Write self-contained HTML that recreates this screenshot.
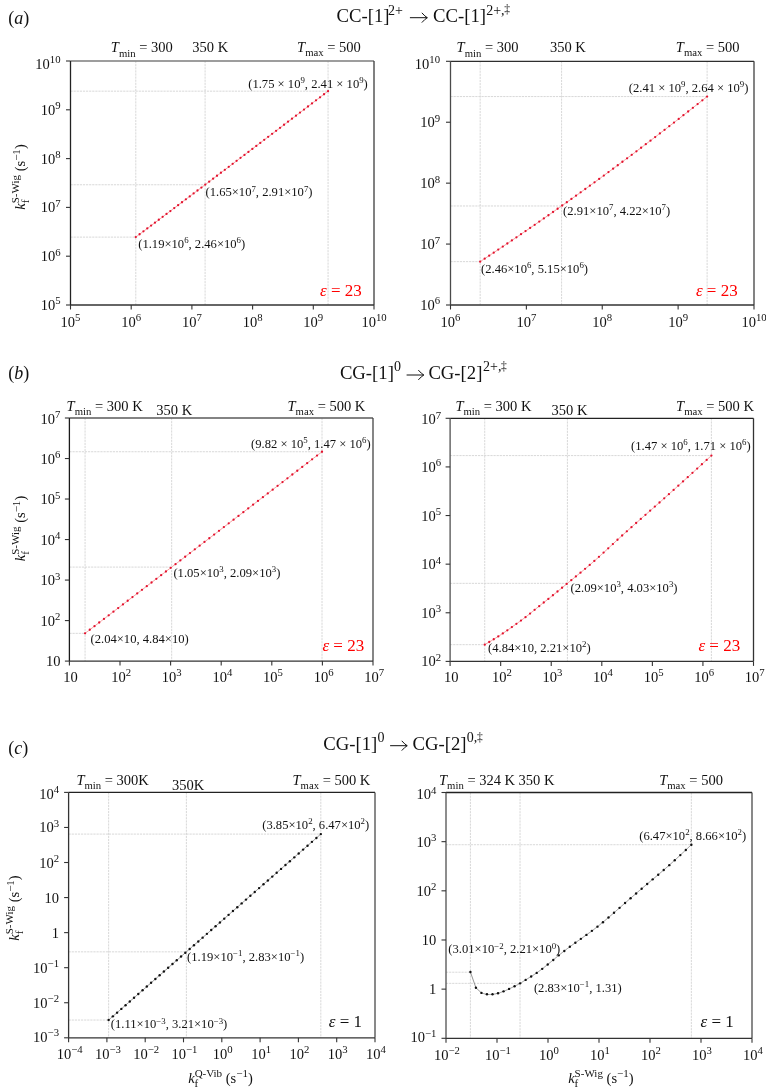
<!DOCTYPE html><html><head><meta charset="utf-8"><style>html,body{margin:0;padding:0;background:#fff;}svg{display:block;}text{font-family:"Liberation Serif",serif;}</style></head><body>
<svg style="will-change:transform" width="766" height="1091" viewBox="0 0 766 1091">
<rect width="766" height="1091" fill="#fff"/>
<text x="8.30" y="23.50" text-anchor="start" fill="#111"><tspan font-size="18.00">(</tspan><tspan font-size="18.00" font-style="italic">a</tspan><tspan font-size="18.00">)</tspan></text>
<text x="8.30" y="378.50" text-anchor="start" fill="#111"><tspan font-size="18.00">(</tspan><tspan font-size="18.00" font-style="italic">b</tspan><tspan font-size="18.00">)</tspan></text>
<text x="8.30" y="753.50" text-anchor="start" fill="#111"><tspan font-size="18.00">(</tspan><tspan font-size="18.00" font-style="italic">c</tspan><tspan font-size="18.00">)</tspan></text>
<text x="336.60" y="22.20" text-anchor="start" fill="#111"><tspan font-size="18.70">CC-[1]</tspan></text>
<text x="388.00" y="14.64" font-size="14.00" fill="#111">2+</text>
<path d="M410.30 17.70H426.90M422.10 13.10Q425.10 16.50 427.30 17.70Q425.10 18.90 422.10 22.30" fill="none" stroke="#111" stroke-width="1.0" stroke-linecap="round" stroke-linejoin="round"/>
<text x="433.00" y="22.20" text-anchor="start" fill="#111"><tspan font-size="18.70">CC-[1]</tspan></text>
<text x="486.20" y="14.64" font-size="14.00" fill="#111">2+,<tspan font-size="11.5" dx="-0.4" dy="-1.2">‡</tspan></text>
<text x="339.90" y="378.90" text-anchor="start" fill="#111"><tspan font-size="18.70">CG-[1]</tspan></text>
<text x="394.00" y="371.34" font-size="14.00" fill="#111">0</text>
<path d="M407.00 375.00H423.40M418.60 370.40Q421.60 373.80 423.80 375.00Q421.60 376.20 418.60 379.60" fill="none" stroke="#111" stroke-width="1.0" stroke-linecap="round" stroke-linejoin="round"/>
<text x="428.40" y="378.90" text-anchor="start" fill="#111"><tspan font-size="18.70">CG-[2]</tspan></text>
<text x="483.10" y="371.34" font-size="14.00" fill="#111">2+,<tspan font-size="11.5" dx="-0.4" dy="-1.2">‡</tspan></text>
<text x="323.30" y="750.00" text-anchor="start" fill="#111"><tspan font-size="18.70">CG-[1]</tspan></text>
<text x="377.40" y="742.44" font-size="14.00" fill="#111">0</text>
<path d="M390.50 745.70H406.80M402.00 741.10Q405.00 744.50 407.20 745.70Q405.00 746.90 402.00 750.30" fill="none" stroke="#111" stroke-width="1.0" stroke-linecap="round" stroke-linejoin="round"/>
<text x="412.60" y="750.00" text-anchor="start" fill="#111"><tspan font-size="18.70">CG-[2]</tspan></text>
<text x="466.80" y="742.44" font-size="14.00" fill="#111">0,<tspan font-size="11.5" dx="-0.4" dy="-1.2">‡</tspan></text>
<line x1="135.79" y1="61.00" x2="135.79" y2="305.00" stroke="#d4d4d4" stroke-width="0.9" stroke-dasharray="2.2 0.9"/>
<line x1="70.50" y1="237.12" x2="135.79" y2="237.12" stroke="#d4d4d4" stroke-width="0.9" stroke-dasharray="2.2 0.9"/>
<line x1="205.10" y1="61.00" x2="205.10" y2="305.00" stroke="#d4d4d4" stroke-width="0.9" stroke-dasharray="2.2 0.9"/>
<line x1="70.50" y1="184.76" x2="205.10" y2="184.76" stroke="#d4d4d4" stroke-width="0.9" stroke-dasharray="2.2 0.9"/>
<line x1="328.05" y1="61.00" x2="328.05" y2="305.00" stroke="#d4d4d4" stroke-width="0.9" stroke-dasharray="2.2 0.9"/>
<line x1="70.50" y1="91.16" x2="328.05" y2="91.16" stroke="#d4d4d4" stroke-width="0.9" stroke-dasharray="2.2 0.9"/>
<polyline points="135.79,237.12 136.75,236.40 137.71,235.67 138.67,234.95 139.63,234.23 140.59,233.50 141.55,232.78 142.52,232.05 143.48,231.33 144.44,230.60 145.40,229.88 146.36,229.15 147.32,228.43 148.28,227.70 149.24,226.98 150.21,226.25 151.17,225.53 152.13,224.80 153.09,224.08 154.05,223.35 155.01,222.63 155.97,221.90 156.94,221.18 157.90,220.45 158.86,219.73 159.82,219.00 160.78,218.28 161.74,217.55 162.70,216.82 163.66,216.10 164.63,215.37 165.59,214.65 166.55,213.92 167.51,213.20 168.47,212.47 169.43,211.74 170.39,211.02 171.36,210.29 172.32,209.56 173.28,208.84 174.24,208.11 175.20,207.39 176.16,206.66 177.12,205.93 178.08,205.21 179.05,204.48 180.01,203.75 180.97,203.03 181.93,202.30 182.89,201.57 183.85,200.84 184.81,200.12 185.78,199.39 186.74,198.66 187.70,197.94 188.66,197.21 189.62,196.48 190.58,195.75 191.54,195.03 192.50,194.30 193.47,193.57 194.43,192.84 195.39,192.12 196.35,191.39 197.31,190.66 198.27,189.93 199.23,189.21 200.20,188.48 201.16,187.75 202.12,187.02 203.08,186.29 204.04,185.57 205.00,184.84 205.96,184.11 206.92,183.38 207.89,182.65 208.85,181.92 209.81,181.20 210.77,180.47 211.73,179.74 212.69,179.01 213.65,178.28 214.62,177.55 215.58,176.82 216.54,176.09 217.50,175.37 218.46,174.64 219.42,173.91 220.38,173.18 221.34,172.45 222.31,171.72 223.27,170.99 224.23,170.26 225.19,169.53 226.15,168.80 227.11,168.07 228.07,167.34 229.04,166.61 230.00,165.88 230.96,165.15 231.92,164.42 232.88,163.69 233.84,162.96 234.80,162.23 235.76,161.50 236.73,160.77 237.69,160.04 238.65,159.31 239.61,158.58 240.57,157.85 241.53,157.12 242.49,156.39 243.46,155.66 244.42,154.93 245.38,154.20 246.34,153.47 247.30,152.74 248.26,152.01 249.22,151.28 250.18,150.55 251.15,149.82 252.11,149.09 253.07,148.35 254.03,147.62 254.99,146.89 255.95,146.16 256.91,145.43 257.88,144.70 258.84,143.97 259.80,143.24 260.76,142.50 261.72,141.77 262.68,141.04 263.64,140.31 264.60,139.58 265.57,138.85 266.53,138.11 267.49,137.38 268.45,136.65 269.41,135.92 270.37,135.19 271.33,134.45 272.30,133.72 273.26,132.99 274.22,132.26 275.18,131.52 276.14,130.79 277.10,130.06 278.06,129.33 279.02,128.59 279.99,127.86 280.95,127.13 281.91,126.40 282.87,125.66 283.83,124.93 284.79,124.20 285.75,123.47 286.72,122.73 287.68,122.00 288.64,121.27 289.60,120.53 290.56,119.80 291.52,119.07 292.48,118.33 293.44,117.60 294.41,116.87 295.37,116.13 296.33,115.40 297.29,114.67 298.25,113.93 299.21,113.20 300.17,112.46 301.14,111.73 302.10,111.00 303.06,110.26 304.02,109.53 304.98,108.79 305.94,108.06 306.90,107.33 307.86,106.59 308.83,105.86 309.79,105.12 310.75,104.39 311.71,103.65 312.67,102.92 313.63,102.18 314.59,101.45 315.56,100.71 316.52,99.98 317.48,99.24 318.44,98.51 319.40,97.77 320.36,97.04 321.32,96.30 322.28,95.57 323.25,94.83 324.21,94.10 325.17,93.36 326.13,92.63 327.09,91.89 328.05,91.16" fill="none" stroke="#f38484" stroke-width="0.8"/>
<circle cx="135.79" cy="237.12" r="1.15" fill="#e3122f"/>
<circle cx="139.61" cy="234.24" r="1.15" fill="#e3122f"/>
<circle cx="143.45" cy="231.35" r="1.15" fill="#e3122f"/>
<circle cx="147.28" cy="228.46" r="1.15" fill="#e3122f"/>
<circle cx="151.12" cy="225.56" r="1.15" fill="#e3122f"/>
<circle cx="154.97" cy="222.66" r="1.15" fill="#e3122f"/>
<circle cx="158.81" cy="219.76" r="1.15" fill="#e3122f"/>
<circle cx="162.67" cy="216.85" r="1.15" fill="#e3122f"/>
<circle cx="166.52" cy="213.94" r="1.15" fill="#e3122f"/>
<circle cx="170.38" cy="211.03" r="1.15" fill="#e3122f"/>
<circle cx="174.25" cy="208.11" r="1.15" fill="#e3122f"/>
<circle cx="178.11" cy="205.18" r="1.15" fill="#e3122f"/>
<circle cx="181.99" cy="202.26" r="1.15" fill="#e3122f"/>
<circle cx="185.86" cy="199.32" r="1.15" fill="#e3122f"/>
<circle cx="189.74" cy="196.39" r="1.15" fill="#e3122f"/>
<circle cx="193.63" cy="193.45" r="1.15" fill="#e3122f"/>
<circle cx="197.51" cy="190.51" r="1.15" fill="#e3122f"/>
<circle cx="201.41" cy="187.56" r="1.15" fill="#e3122f"/>
<circle cx="205.30" cy="184.61" r="1.15" fill="#e3122f"/>
<circle cx="209.20" cy="181.66" r="1.15" fill="#e3122f"/>
<circle cx="213.11" cy="178.70" r="1.15" fill="#e3122f"/>
<circle cx="217.01" cy="175.73" r="1.15" fill="#e3122f"/>
<circle cx="220.93" cy="172.77" r="1.15" fill="#e3122f"/>
<circle cx="224.84" cy="169.80" r="1.15" fill="#e3122f"/>
<circle cx="228.76" cy="166.82" r="1.15" fill="#e3122f"/>
<circle cx="232.68" cy="163.84" r="1.15" fill="#e3122f"/>
<circle cx="236.61" cy="160.86" r="1.15" fill="#e3122f"/>
<circle cx="240.54" cy="157.87" r="1.15" fill="#e3122f"/>
<circle cx="244.48" cy="154.88" r="1.15" fill="#e3122f"/>
<circle cx="248.42" cy="151.89" r="1.15" fill="#e3122f"/>
<circle cx="252.36" cy="148.89" r="1.15" fill="#e3122f"/>
<circle cx="256.31" cy="145.89" r="1.15" fill="#e3122f"/>
<circle cx="260.26" cy="142.88" r="1.15" fill="#e3122f"/>
<circle cx="264.22" cy="139.87" r="1.15" fill="#e3122f"/>
<circle cx="268.18" cy="136.86" r="1.15" fill="#e3122f"/>
<circle cx="272.14" cy="133.84" r="1.15" fill="#e3122f"/>
<circle cx="276.11" cy="130.82" r="1.15" fill="#e3122f"/>
<circle cx="280.08" cy="127.79" r="1.15" fill="#e3122f"/>
<circle cx="284.06" cy="124.76" r="1.15" fill="#e3122f"/>
<circle cx="288.04" cy="121.72" r="1.15" fill="#e3122f"/>
<circle cx="292.02" cy="118.69" r="1.15" fill="#e3122f"/>
<circle cx="296.01" cy="115.64" r="1.15" fill="#e3122f"/>
<circle cx="300.00" cy="112.60" r="1.15" fill="#e3122f"/>
<circle cx="304.00" cy="109.55" r="1.15" fill="#e3122f"/>
<circle cx="307.99" cy="106.49" r="1.15" fill="#e3122f"/>
<circle cx="312.00" cy="103.43" r="1.15" fill="#e3122f"/>
<circle cx="316.01" cy="100.37" r="1.15" fill="#e3122f"/>
<circle cx="320.02" cy="97.30" r="1.15" fill="#e3122f"/>
<circle cx="324.03" cy="94.23" r="1.15" fill="#e3122f"/>
<circle cx="328.05" cy="91.16" r="1.15" fill="#e3122f"/>
<line x1="70.5" y1="61" x2="374" y2="61" stroke="#7c7c7c" stroke-width="1.3"/>
<line x1="374" y1="61" x2="374" y2="305" stroke="#3c3c3c" stroke-width="1.3"/>
<line x1="70.5" y1="305" x2="374" y2="305" stroke="#333" stroke-width="1.3"/>
<line x1="70.5" y1="61" x2="70.5" y2="305" stroke="#222" stroke-width="1.3"/>
<line x1="70.50" y1="305" x2="70.50" y2="309.5" stroke="#333" stroke-width="1.1"/>
<text x="70.50" y="326.50" text-anchor="middle" fill="#111"><tspan font-size="14.50">10</tspan><tspan dy="-5.51" font-size="10.73">5</tspan></text>
<line x1="131.20" y1="305" x2="131.20" y2="309.5" stroke="#333" stroke-width="1.1"/>
<text x="131.20" y="326.50" text-anchor="middle" fill="#111"><tspan font-size="14.50">10</tspan><tspan dy="-5.51" font-size="10.73">6</tspan></text>
<line x1="191.90" y1="305" x2="191.90" y2="309.5" stroke="#333" stroke-width="1.1"/>
<text x="191.90" y="326.50" text-anchor="middle" fill="#111"><tspan font-size="14.50">10</tspan><tspan dy="-5.51" font-size="10.73">7</tspan></text>
<line x1="252.60" y1="305" x2="252.60" y2="309.5" stroke="#333" stroke-width="1.1"/>
<text x="252.60" y="326.50" text-anchor="middle" fill="#111"><tspan font-size="14.50">10</tspan><tspan dy="-5.51" font-size="10.73">8</tspan></text>
<line x1="313.30" y1="305" x2="313.30" y2="309.5" stroke="#333" stroke-width="1.1"/>
<text x="313.30" y="326.50" text-anchor="middle" fill="#111"><tspan font-size="14.50">10</tspan><tspan dy="-5.51" font-size="10.73">9</tspan></text>
<line x1="374.00" y1="305" x2="374.00" y2="309.5" stroke="#333" stroke-width="1.1"/>
<text x="374.00" y="326.50" text-anchor="middle" fill="#111"><tspan font-size="14.50">10</tspan><tspan dy="-5.51" font-size="10.73">10</tspan></text>
<line x1="66.0" y1="305.00" x2="70.5" y2="305.00" stroke="#333" stroke-width="1.1"/>
<text x="60.50" y="310.00" text-anchor="end" fill="#111"><tspan font-size="14.50">10</tspan><tspan dy="-5.51" font-size="10.73">5</tspan></text>
<line x1="66.0" y1="256.20" x2="70.5" y2="256.20" stroke="#333" stroke-width="1.1"/>
<text x="60.50" y="261.20" text-anchor="end" fill="#111"><tspan font-size="14.50">10</tspan><tspan dy="-5.51" font-size="10.73">6</tspan></text>
<line x1="66.0" y1="207.40" x2="70.5" y2="207.40" stroke="#333" stroke-width="1.1"/>
<text x="60.50" y="212.40" text-anchor="end" fill="#111"><tspan font-size="14.50">10</tspan><tspan dy="-5.51" font-size="10.73">7</tspan></text>
<line x1="66.0" y1="158.60" x2="70.5" y2="158.60" stroke="#333" stroke-width="1.1"/>
<text x="60.50" y="163.60" text-anchor="end" fill="#111"><tspan font-size="14.50">10</tspan><tspan dy="-5.51" font-size="10.73">8</tspan></text>
<line x1="66.0" y1="109.80" x2="70.5" y2="109.80" stroke="#333" stroke-width="1.1"/>
<text x="60.50" y="114.80" text-anchor="end" fill="#111"><tspan font-size="14.50">10</tspan><tspan dy="-5.51" font-size="10.73">9</tspan></text>
<line x1="66.0" y1="61.00" x2="70.5" y2="61.00" stroke="#333" stroke-width="1.1"/>
<text x="60.50" y="68.60" text-anchor="end" fill="#111"><tspan font-size="14.50">10</tspan><tspan dy="-5.51" font-size="10.73">10</tspan></text>
<text x="110.80" y="52.40" fill="#111"><tspan font-style="italic" font-size="14.5">T</tspan><tspan dy="4.35" font-size="10.73">min</tspan><tspan dy="-4.35" font-size="14.5"> = 300</tspan></text>
<text x="192.30" y="52.40" text-anchor="start" fill="#111"><tspan font-size="14.50">350 K</tspan></text>
<text x="297.10" y="52.00" fill="#111"><tspan font-style="italic" font-size="14.5">T</tspan><tspan dy="4.35" font-size="10.73">max</tspan><tspan dy="-4.35" font-size="14.5"> = 500</tspan></text>
<text x="138.20" y="248.00" text-anchor="start" fill="#111"><tspan font-size="12.60">(</tspan><tspan font-size="12.60">1.19×10</tspan><tspan dy="-4.79" font-size="8.82">6</tspan><tspan dy="4.79" font-size="12.60">, </tspan><tspan font-size="12.60">2.46×10</tspan><tspan dy="-4.79" font-size="8.82">6</tspan><tspan dy="4.79" font-size="12.60">)</tspan></text>
<text x="205.50" y="196.40" text-anchor="start" fill="#111"><tspan font-size="12.60">(</tspan><tspan font-size="12.60">1.65×10</tspan><tspan dy="-4.79" font-size="8.82">7</tspan><tspan dy="4.79" font-size="12.60">, </tspan><tspan font-size="12.60">2.91×10</tspan><tspan dy="-4.79" font-size="8.82">7</tspan><tspan dy="4.79" font-size="12.60">)</tspan></text>
<text x="248.20" y="87.80" text-anchor="start" fill="#111"><tspan font-size="12.60">(</tspan><tspan font-size="12.60">1.75 × 10</tspan><tspan dy="-4.79" font-size="8.82">9</tspan><tspan dy="4.79" font-size="12.60">, </tspan><tspan font-size="12.60">2.41 × 10</tspan><tspan dy="-4.79" font-size="8.82">9</tspan><tspan dy="4.79" font-size="12.60">)</tspan></text>
<text x="320.00" y="295.50" text-anchor="start" fill="#ff0000"><tspan font-size="17.00" font-style="italic">ε</tspan><tspan font-size="17.00"> = 23</tspan></text>
<text x="25.40" y="177.00" text-anchor="middle" fill="#111" transform="rotate(-90 25.4 177)"><tspan font-style="italic" font-size="14.5">k</tspan><tspan dy="4.06" font-size="11.02">f</tspan><tspan dx="-3.67" dy="-10.15" font-size="11.02">S-Wig</tspan><tspan dy="6.09" font-size="14.5"> (s</tspan><tspan dy="-5.51" font-size="11.02">−1</tspan><tspan dy="5.51" font-size="14.5">)</tspan></text>
<line x1="480.16" y1="61.30" x2="480.16" y2="305.00" stroke="#d4d4d4" stroke-width="0.9" stroke-dasharray="2.2 0.9"/>
<line x1="450.50" y1="261.63" x2="480.16" y2="261.63" stroke="#d4d4d4" stroke-width="0.9" stroke-dasharray="2.2 0.9"/>
<line x1="561.57" y1="61.30" x2="561.57" y2="305.00" stroke="#d4d4d4" stroke-width="0.9" stroke-dasharray="2.2 0.9"/>
<line x1="450.50" y1="205.98" x2="561.57" y2="205.98" stroke="#d4d4d4" stroke-width="0.9" stroke-dasharray="2.2 0.9"/>
<line x1="707.11" y1="61.30" x2="707.11" y2="305.00" stroke="#d4d4d4" stroke-width="0.9" stroke-dasharray="2.2 0.9"/>
<line x1="450.50" y1="96.54" x2="707.11" y2="96.54" stroke="#d4d4d4" stroke-width="0.9" stroke-dasharray="2.2 0.9"/>
<polyline points="480.16,261.63 481.30,260.88 482.43,260.14 483.57,259.39 484.70,258.64 485.84,257.88 486.97,257.13 488.11,256.38 489.24,255.62 490.37,254.87 491.51,254.11 492.64,253.36 493.78,252.60 494.91,251.84 496.05,251.09 497.18,250.33 498.32,249.57 499.45,248.81 500.59,248.04 501.72,247.28 502.86,246.52 503.99,245.76 505.13,244.99 506.26,244.23 507.40,243.46 508.53,242.69 509.67,241.92 510.80,241.16 511.93,240.39 513.07,239.62 514.20,238.85 515.34,238.07 516.47,237.30 517.61,236.53 518.74,235.76 519.88,234.98 521.01,234.20 522.15,233.43 523.28,232.65 524.42,231.87 525.55,231.10 526.69,230.32 527.82,229.54 528.96,228.76 530.09,227.97 531.23,227.19 532.36,226.41 533.50,225.62 534.63,224.84 535.76,224.05 536.90,223.27 538.03,222.48 539.17,221.69 540.30,220.90 541.44,220.11 542.57,219.32 543.71,218.53 544.84,217.74 545.98,216.95 547.11,216.16 548.25,215.36 549.38,214.57 550.52,213.77 551.65,212.97 552.79,212.18 553.92,211.38 555.06,210.58 556.19,209.78 557.32,208.98 558.46,208.18 559.59,207.38 560.73,206.58 561.86,205.77 563.00,204.97 564.13,204.16 565.27,203.36 566.40,202.55 567.54,201.74 568.67,200.94 569.81,200.13 570.94,199.32 572.08,198.51 573.21,197.70 574.35,196.88 575.48,196.07 576.62,195.26 577.75,194.44 578.88,193.63 580.02,192.81 581.15,192.00 582.29,191.18 583.42,190.36 584.56,189.54 585.69,188.72 586.83,187.90 587.96,187.08 589.10,186.26 590.23,185.44 591.37,184.61 592.50,183.79 593.64,182.96 594.77,182.14 595.91,181.31 597.04,180.48 598.18,179.65 599.31,178.83 600.44,178.00 601.58,177.17 602.71,176.33 603.85,175.50 604.98,174.67 606.12,173.84 607.25,173.00 608.39,172.17 609.52,171.33 610.66,170.49 611.79,169.66 612.93,168.82 614.06,167.98 615.20,167.14 616.33,166.30 617.47,165.46 618.60,164.61 619.74,163.77 620.87,162.93 622.00,162.08 623.14,161.24 624.27,160.39 625.41,159.55 626.54,158.70 627.68,157.85 628.81,157.00 629.95,156.15 631.08,155.30 632.22,154.45 633.35,153.60 634.49,152.74 635.62,151.89 636.76,151.03 637.89,150.18 639.03,149.32 640.16,148.47 641.30,147.61 642.43,146.75 643.57,145.89 644.70,145.03 645.83,144.17 646.97,143.31 648.10,142.45 649.24,141.58 650.37,140.72 651.51,139.86 652.64,138.99 653.78,138.12 654.91,137.26 656.05,136.39 657.18,135.52 658.32,134.65 659.45,133.78 660.59,132.91 661.72,132.04 662.86,131.17 663.99,130.29 665.13,129.42 666.26,128.54 667.39,127.67 668.53,126.79 669.66,125.92 670.80,125.04 671.93,124.16 673.07,123.28 674.20,122.40 675.34,121.52 676.47,120.64 677.61,119.75 678.74,118.87 679.88,117.99 681.01,117.10 682.15,116.22 683.28,115.33 684.42,114.44 685.55,113.56 686.69,112.67 687.82,111.78 688.95,110.89 690.09,110.00 691.22,109.10 692.36,108.21 693.49,107.32 694.63,106.42 695.76,105.53 696.90,104.63 698.03,103.74 699.17,102.84 700.30,101.94 701.44,101.04 702.57,100.14 703.71,99.24 704.84,98.34 705.98,97.44 707.11,96.54" fill="none" stroke="#f38484" stroke-width="0.8"/>
<circle cx="480.16" cy="261.63" r="1.15" fill="#e3122f"/>
<circle cx="484.68" cy="258.65" r="1.15" fill="#e3122f"/>
<circle cx="489.20" cy="255.65" r="1.15" fill="#e3122f"/>
<circle cx="493.73" cy="252.63" r="1.15" fill="#e3122f"/>
<circle cx="498.26" cy="249.60" r="1.15" fill="#e3122f"/>
<circle cx="502.80" cy="246.56" r="1.15" fill="#e3122f"/>
<circle cx="507.34" cy="243.49" r="1.15" fill="#e3122f"/>
<circle cx="511.89" cy="240.42" r="1.15" fill="#e3122f"/>
<circle cx="516.44" cy="237.32" r="1.15" fill="#e3122f"/>
<circle cx="521.00" cy="234.21" r="1.15" fill="#e3122f"/>
<circle cx="525.56" cy="231.09" r="1.15" fill="#e3122f"/>
<circle cx="530.13" cy="227.95" r="1.15" fill="#e3122f"/>
<circle cx="534.70" cy="224.79" r="1.15" fill="#e3122f"/>
<circle cx="539.27" cy="221.62" r="1.15" fill="#e3122f"/>
<circle cx="543.85" cy="218.43" r="1.15" fill="#e3122f"/>
<circle cx="548.44" cy="215.23" r="1.15" fill="#e3122f"/>
<circle cx="553.03" cy="212.01" r="1.15" fill="#e3122f"/>
<circle cx="557.62" cy="208.77" r="1.15" fill="#e3122f"/>
<circle cx="562.22" cy="205.52" r="1.15" fill="#e3122f"/>
<circle cx="566.82" cy="202.25" r="1.15" fill="#e3122f"/>
<circle cx="571.43" cy="198.97" r="1.15" fill="#e3122f"/>
<circle cx="576.04" cy="195.67" r="1.15" fill="#e3122f"/>
<circle cx="580.66" cy="192.35" r="1.15" fill="#e3122f"/>
<circle cx="585.28" cy="189.02" r="1.15" fill="#e3122f"/>
<circle cx="589.91" cy="185.67" r="1.15" fill="#e3122f"/>
<circle cx="594.54" cy="182.30" r="1.15" fill="#e3122f"/>
<circle cx="599.18" cy="178.92" r="1.15" fill="#e3122f"/>
<circle cx="603.82" cy="175.53" r="1.15" fill="#e3122f"/>
<circle cx="608.46" cy="172.11" r="1.15" fill="#e3122f"/>
<circle cx="613.11" cy="168.68" r="1.15" fill="#e3122f"/>
<circle cx="617.77" cy="165.23" r="1.15" fill="#e3122f"/>
<circle cx="622.43" cy="161.77" r="1.15" fill="#e3122f"/>
<circle cx="627.09" cy="158.29" r="1.15" fill="#e3122f"/>
<circle cx="631.76" cy="154.79" r="1.15" fill="#e3122f"/>
<circle cx="636.44" cy="151.28" r="1.15" fill="#e3122f"/>
<circle cx="641.11" cy="147.75" r="1.15" fill="#e3122f"/>
<circle cx="645.80" cy="144.20" r="1.15" fill="#e3122f"/>
<circle cx="650.49" cy="140.63" r="1.15" fill="#e3122f"/>
<circle cx="655.18" cy="137.05" r="1.15" fill="#e3122f"/>
<circle cx="659.88" cy="133.45" r="1.15" fill="#e3122f"/>
<circle cx="664.58" cy="129.84" r="1.15" fill="#e3122f"/>
<circle cx="669.29" cy="126.21" r="1.15" fill="#e3122f"/>
<circle cx="674.00" cy="122.56" r="1.15" fill="#e3122f"/>
<circle cx="678.71" cy="118.89" r="1.15" fill="#e3122f"/>
<circle cx="683.43" cy="115.21" r="1.15" fill="#e3122f"/>
<circle cx="688.16" cy="111.51" r="1.15" fill="#e3122f"/>
<circle cx="692.89" cy="107.79" r="1.15" fill="#e3122f"/>
<circle cx="697.63" cy="104.06" r="1.15" fill="#e3122f"/>
<circle cx="702.37" cy="100.31" r="1.15" fill="#e3122f"/>
<circle cx="707.11" cy="96.54" r="1.15" fill="#e3122f"/>
<line x1="450.5" y1="61.3" x2="754" y2="61.3" stroke="#2e2e2e" stroke-width="1.3"/>
<line x1="754" y1="61.3" x2="754" y2="305" stroke="#404040" stroke-width="1.3"/>
<line x1="450.5" y1="305" x2="754" y2="305" stroke="#333" stroke-width="1.3"/>
<line x1="450.5" y1="61.3" x2="450.5" y2="305" stroke="#4a4a4a" stroke-width="1.3"/>
<line x1="450.50" y1="305" x2="450.50" y2="309.5" stroke="#333" stroke-width="1.1"/>
<text x="450.50" y="326.50" text-anchor="middle" fill="#111"><tspan font-size="14.50">10</tspan><tspan dy="-5.51" font-size="10.73">6</tspan></text>
<line x1="526.38" y1="305" x2="526.38" y2="309.5" stroke="#333" stroke-width="1.1"/>
<text x="526.38" y="326.50" text-anchor="middle" fill="#111"><tspan font-size="14.50">10</tspan><tspan dy="-5.51" font-size="10.73">7</tspan></text>
<line x1="602.25" y1="305" x2="602.25" y2="309.5" stroke="#333" stroke-width="1.1"/>
<text x="602.25" y="326.50" text-anchor="middle" fill="#111"><tspan font-size="14.50">10</tspan><tspan dy="-5.51" font-size="10.73">8</tspan></text>
<line x1="678.12" y1="305" x2="678.12" y2="309.5" stroke="#333" stroke-width="1.1"/>
<text x="678.12" y="326.50" text-anchor="middle" fill="#111"><tspan font-size="14.50">10</tspan><tspan dy="-5.51" font-size="10.73">9</tspan></text>
<line x1="754.00" y1="305" x2="754.00" y2="309.5" stroke="#333" stroke-width="1.1"/>
<text x="754.00" y="326.50" text-anchor="middle" fill="#111"><tspan font-size="14.50">10</tspan><tspan dy="-5.51" font-size="10.73">10</tspan></text>
<line x1="446.0" y1="305.00" x2="450.5" y2="305.00" stroke="#333" stroke-width="1.1"/>
<text x="440.00" y="310.00" text-anchor="end" fill="#111"><tspan font-size="14.50">10</tspan><tspan dy="-5.51" font-size="10.73">6</tspan></text>
<line x1="446.0" y1="244.07" x2="450.5" y2="244.07" stroke="#333" stroke-width="1.1"/>
<text x="440.00" y="249.07" text-anchor="end" fill="#111"><tspan font-size="14.50">10</tspan><tspan dy="-5.51" font-size="10.73">7</tspan></text>
<line x1="446.0" y1="183.15" x2="450.5" y2="183.15" stroke="#333" stroke-width="1.1"/>
<text x="440.00" y="188.15" text-anchor="end" fill="#111"><tspan font-size="14.50">10</tspan><tspan dy="-5.51" font-size="10.73">8</tspan></text>
<line x1="446.0" y1="122.23" x2="450.5" y2="122.23" stroke="#333" stroke-width="1.1"/>
<text x="440.00" y="127.23" text-anchor="end" fill="#111"><tspan font-size="14.50">10</tspan><tspan dy="-5.51" font-size="10.73">9</tspan></text>
<line x1="446.0" y1="61.30" x2="450.5" y2="61.30" stroke="#333" stroke-width="1.1"/>
<text x="440.00" y="68.80" text-anchor="end" fill="#111"><tspan font-size="14.50">10</tspan><tspan dy="-5.51" font-size="10.73">10</tspan></text>
<text x="456.60" y="52.20" fill="#111"><tspan font-style="italic" font-size="14.5">T</tspan><tspan dy="4.35" font-size="10.73">min</tspan><tspan dy="-4.35" font-size="14.5"> = 300</tspan></text>
<text x="549.90" y="52.20" text-anchor="start" fill="#111"><tspan font-size="14.50">350 K</tspan></text>
<text x="675.80" y="52.00" fill="#111"><tspan font-style="italic" font-size="14.5">T</tspan><tspan dy="4.35" font-size="10.73">max</tspan><tspan dy="-4.35" font-size="14.5"> = 500</tspan></text>
<text x="481.00" y="272.80" text-anchor="start" fill="#111"><tspan font-size="12.60">(</tspan><tspan font-size="12.60">2.46×10</tspan><tspan dy="-4.79" font-size="8.82">6</tspan><tspan dy="4.79" font-size="12.60">, </tspan><tspan font-size="12.60">5.15×10</tspan><tspan dy="-4.79" font-size="8.82">6</tspan><tspan dy="4.79" font-size="12.60">)</tspan></text>
<text x="563.10" y="215.00" text-anchor="start" fill="#111"><tspan font-size="12.60">(</tspan><tspan font-size="12.60">2.91×10</tspan><tspan dy="-4.79" font-size="8.82">7</tspan><tspan dy="4.79" font-size="12.60">, </tspan><tspan font-size="12.60">4.22×10</tspan><tspan dy="-4.79" font-size="8.82">7</tspan><tspan dy="4.79" font-size="12.60">)</tspan></text>
<text x="628.80" y="92.00" text-anchor="start" fill="#111"><tspan font-size="12.60">(</tspan><tspan font-size="12.60">2.41 × 10</tspan><tspan dy="-4.79" font-size="8.82">9</tspan><tspan dy="4.79" font-size="12.60">, </tspan><tspan font-size="12.60">2.64 × 10</tspan><tspan dy="-4.79" font-size="8.82">9</tspan><tspan dy="4.79" font-size="12.60">)</tspan></text>
<text x="695.90" y="295.50" text-anchor="start" fill="#ff0000"><tspan font-size="17.00" font-style="italic">ε</tspan><tspan font-size="17.00"> = 23</tspan></text>
<line x1="85.07" y1="418.00" x2="85.07" y2="661.10" stroke="#d4d4d4" stroke-width="0.9" stroke-dasharray="2.2 0.9"/>
<line x1="69.40" y1="633.35" x2="85.07" y2="633.35" stroke="#d4d4d4" stroke-width="0.9" stroke-dasharray="2.2 0.9"/>
<line x1="171.67" y1="418.00" x2="171.67" y2="661.10" stroke="#d4d4d4" stroke-width="0.9" stroke-dasharray="2.2 0.9"/>
<line x1="69.40" y1="567.10" x2="171.67" y2="567.10" stroke="#d4d4d4" stroke-width="0.9" stroke-dasharray="2.2 0.9"/>
<line x1="322.00" y1="418.00" x2="322.00" y2="661.10" stroke="#d4d4d4" stroke-width="0.9" stroke-dasharray="2.2 0.9"/>
<line x1="69.40" y1="451.74" x2="322.00" y2="451.74" stroke="#d4d4d4" stroke-width="0.9" stroke-dasharray="2.2 0.9"/>
<polyline points="85.07,633.35 86.25,632.45 87.44,631.54 88.62,630.64 89.81,629.73 90.99,628.83 92.18,627.92 93.36,627.01 94.54,626.11 95.73,625.20 96.91,624.30 98.10,623.39 99.28,622.49 100.47,621.58 101.65,620.68 102.84,619.77 104.02,618.86 105.21,617.96 106.39,617.05 107.58,616.15 108.76,615.24 109.95,614.33 111.13,613.43 112.31,612.52 113.50,611.62 114.68,610.71 115.87,609.80 117.05,608.90 118.24,607.99 119.42,607.09 120.61,606.18 121.79,605.27 122.98,604.37 124.16,603.46 125.35,602.56 126.53,601.65 127.72,600.74 128.90,599.84 130.08,598.93 131.27,598.02 132.45,597.12 133.64,596.21 134.82,595.30 136.01,594.40 137.19,593.49 138.38,592.58 139.56,591.68 140.75,590.77 141.93,589.87 143.12,588.96 144.30,588.05 145.49,587.15 146.67,586.24 147.85,585.33 149.04,584.42 150.22,583.52 151.41,582.61 152.59,581.70 153.78,580.80 154.96,579.89 156.15,578.98 157.33,578.08 158.52,577.17 159.70,576.26 160.89,575.36 162.07,574.45 163.26,573.54 164.44,572.63 165.62,571.73 166.81,570.82 167.99,569.91 169.18,569.01 170.36,568.10 171.55,567.19 172.73,566.28 173.92,565.38 175.10,564.47 176.29,563.56 177.47,562.65 178.66,561.75 179.84,560.84 181.03,559.93 182.21,559.02 183.39,558.12 184.58,557.21 185.76,556.30 186.95,555.39 188.13,554.49 189.32,553.58 190.50,552.67 191.69,551.76 192.87,550.85 194.06,549.95 195.24,549.04 196.43,548.13 197.61,547.22 198.80,546.31 199.98,545.41 201.16,544.50 202.35,543.59 203.53,542.68 204.72,541.77 205.90,540.87 207.09,539.96 208.27,539.05 209.46,538.14 210.64,537.23 211.83,536.33 213.01,535.42 214.20,534.51 215.38,533.60 216.57,532.69 217.75,531.78 218.93,530.88 220.12,529.97 221.30,529.06 222.49,528.15 223.67,527.24 224.86,526.33 226.04,525.42 227.23,524.52 228.41,523.61 229.60,522.70 230.78,521.79 231.97,520.88 233.15,519.97 234.34,519.06 235.52,518.15 236.70,517.25 237.89,516.34 239.07,515.43 240.26,514.52 241.44,513.61 242.63,512.70 243.81,511.79 245.00,510.88 246.18,509.97 247.37,509.06 248.55,508.16 249.74,507.25 250.92,506.34 252.11,505.43 253.29,504.52 254.47,503.61 255.66,502.70 256.84,501.79 258.03,500.88 259.21,499.97 260.40,499.06 261.58,498.15 262.77,497.24 263.95,496.33 265.14,495.43 266.32,494.52 267.51,493.61 268.69,492.70 269.88,491.79 271.06,490.88 272.24,489.97 273.43,489.06 274.61,488.15 275.80,487.24 276.98,486.33 278.17,485.42 279.35,484.51 280.54,483.60 281.72,482.69 282.91,481.78 284.09,480.87 285.28,479.96 286.46,479.05 287.65,478.14 288.83,477.23 290.01,476.32 291.20,475.41 292.38,474.50 293.57,473.59 294.75,472.68 295.94,471.77 297.12,470.86 298.31,469.95 299.49,469.04 300.68,468.13 301.86,467.22 303.05,466.31 304.23,465.40 305.42,464.49 306.60,463.58 307.78,462.67 308.97,461.75 310.15,460.84 311.34,459.93 312.52,459.02 313.71,458.11 314.89,457.20 316.08,456.29 317.26,455.38 318.45,454.47 319.63,453.56 320.82,452.65 322.00,451.74" fill="none" stroke="#f38484" stroke-width="0.8"/>
<circle cx="85.07" cy="633.35" r="1.15" fill="#e3122f"/>
<circle cx="89.78" cy="629.75" r="1.15" fill="#e3122f"/>
<circle cx="94.51" cy="626.14" r="1.15" fill="#e3122f"/>
<circle cx="99.23" cy="622.52" r="1.15" fill="#e3122f"/>
<circle cx="103.97" cy="618.91" r="1.15" fill="#e3122f"/>
<circle cx="108.70" cy="615.28" r="1.15" fill="#e3122f"/>
<circle cx="113.45" cy="611.66" r="1.15" fill="#e3122f"/>
<circle cx="118.19" cy="608.03" r="1.15" fill="#e3122f"/>
<circle cx="122.94" cy="604.39" r="1.15" fill="#e3122f"/>
<circle cx="127.70" cy="600.75" r="1.15" fill="#e3122f"/>
<circle cx="132.46" cy="597.11" r="1.15" fill="#e3122f"/>
<circle cx="137.23" cy="593.46" r="1.15" fill="#e3122f"/>
<circle cx="142.00" cy="589.81" r="1.15" fill="#e3122f"/>
<circle cx="146.78" cy="586.16" r="1.15" fill="#e3122f"/>
<circle cx="151.56" cy="582.50" r="1.15" fill="#e3122f"/>
<circle cx="156.34" cy="578.83" r="1.15" fill="#e3122f"/>
<circle cx="161.14" cy="575.16" r="1.15" fill="#e3122f"/>
<circle cx="165.93" cy="571.49" r="1.15" fill="#e3122f"/>
<circle cx="170.73" cy="567.81" r="1.15" fill="#e3122f"/>
<circle cx="175.54" cy="564.13" r="1.15" fill="#e3122f"/>
<circle cx="180.35" cy="560.45" r="1.15" fill="#e3122f"/>
<circle cx="185.17" cy="556.76" r="1.15" fill="#e3122f"/>
<circle cx="189.99" cy="553.07" r="1.15" fill="#e3122f"/>
<circle cx="194.81" cy="549.37" r="1.15" fill="#e3122f"/>
<circle cx="199.64" cy="545.67" r="1.15" fill="#e3122f"/>
<circle cx="204.48" cy="541.96" r="1.15" fill="#e3122f"/>
<circle cx="209.32" cy="538.25" r="1.15" fill="#e3122f"/>
<circle cx="214.16" cy="534.53" r="1.15" fill="#e3122f"/>
<circle cx="219.01" cy="530.82" r="1.15" fill="#e3122f"/>
<circle cx="223.87" cy="527.09" r="1.15" fill="#e3122f"/>
<circle cx="228.73" cy="523.36" r="1.15" fill="#e3122f"/>
<circle cx="233.59" cy="519.63" r="1.15" fill="#e3122f"/>
<circle cx="238.46" cy="515.90" r="1.15" fill="#e3122f"/>
<circle cx="243.34" cy="512.16" r="1.15" fill="#e3122f"/>
<circle cx="248.22" cy="508.41" r="1.15" fill="#e3122f"/>
<circle cx="253.10" cy="504.66" r="1.15" fill="#e3122f"/>
<circle cx="257.99" cy="500.91" r="1.15" fill="#e3122f"/>
<circle cx="262.89" cy="497.15" r="1.15" fill="#e3122f"/>
<circle cx="267.78" cy="493.39" r="1.15" fill="#e3122f"/>
<circle cx="272.69" cy="489.63" r="1.15" fill="#e3122f"/>
<circle cx="277.60" cy="485.86" r="1.15" fill="#e3122f"/>
<circle cx="282.51" cy="482.08" r="1.15" fill="#e3122f"/>
<circle cx="287.43" cy="478.30" r="1.15" fill="#e3122f"/>
<circle cx="292.35" cy="474.52" r="1.15" fill="#e3122f"/>
<circle cx="297.28" cy="470.74" r="1.15" fill="#e3122f"/>
<circle cx="302.22" cy="466.94" r="1.15" fill="#e3122f"/>
<circle cx="307.16" cy="463.15" r="1.15" fill="#e3122f"/>
<circle cx="312.10" cy="459.35" r="1.15" fill="#e3122f"/>
<circle cx="317.05" cy="455.55" r="1.15" fill="#e3122f"/>
<circle cx="322.00" cy="451.74" r="1.15" fill="#e3122f"/>
<line x1="69.4" y1="418" x2="373" y2="418" stroke="#5a5a5a" stroke-width="1.3"/>
<line x1="373" y1="418" x2="373" y2="661.1" stroke="#444" stroke-width="1.3"/>
<line x1="69.4" y1="661.1" x2="373" y2="661.1" stroke="#333" stroke-width="1.3"/>
<line x1="69.4" y1="418" x2="69.4" y2="661.1" stroke="#1a1a1a" stroke-width="1.3"/>
<line x1="69.40" y1="661.1" x2="69.40" y2="665.6" stroke="#333" stroke-width="1.1"/>
<text x="70.60" y="681.70" text-anchor="middle" fill="#111"><tspan font-size="14.50">10</tspan></text>
<line x1="120.00" y1="661.1" x2="120.00" y2="665.6" stroke="#333" stroke-width="1.1"/>
<text x="121.20" y="681.70" text-anchor="middle" fill="#111"><tspan font-size="14.50">10</tspan><tspan dy="-5.51" font-size="10.73">2</tspan></text>
<line x1="170.60" y1="661.1" x2="170.60" y2="665.6" stroke="#333" stroke-width="1.1"/>
<text x="171.80" y="681.70" text-anchor="middle" fill="#111"><tspan font-size="14.50">10</tspan><tspan dy="-5.51" font-size="10.73">3</tspan></text>
<line x1="221.20" y1="661.1" x2="221.20" y2="665.6" stroke="#333" stroke-width="1.1"/>
<text x="222.40" y="681.70" text-anchor="middle" fill="#111"><tspan font-size="14.50">10</tspan><tspan dy="-5.51" font-size="10.73">4</tspan></text>
<line x1="271.80" y1="661.1" x2="271.80" y2="665.6" stroke="#333" stroke-width="1.1"/>
<text x="273.00" y="681.70" text-anchor="middle" fill="#111"><tspan font-size="14.50">10</tspan><tspan dy="-5.51" font-size="10.73">5</tspan></text>
<line x1="322.40" y1="661.1" x2="322.40" y2="665.6" stroke="#333" stroke-width="1.1"/>
<text x="323.60" y="681.70" text-anchor="middle" fill="#111"><tspan font-size="14.50">10</tspan><tspan dy="-5.51" font-size="10.73">6</tspan></text>
<line x1="373.00" y1="661.1" x2="373.00" y2="665.6" stroke="#333" stroke-width="1.1"/>
<text x="374.20" y="681.70" text-anchor="middle" fill="#111"><tspan font-size="14.50">10</tspan><tspan dy="-5.51" font-size="10.73">7</tspan></text>
<line x1="64.9" y1="661.10" x2="69.4" y2="661.10" stroke="#333" stroke-width="1.1"/>
<text x="60.40" y="666.10" text-anchor="end" fill="#111"><tspan font-size="14.50">10</tspan></text>
<line x1="64.9" y1="620.58" x2="69.4" y2="620.58" stroke="#333" stroke-width="1.1"/>
<text x="60.40" y="625.58" text-anchor="end" fill="#111"><tspan font-size="14.50">10</tspan><tspan dy="-5.51" font-size="10.73">2</tspan></text>
<line x1="64.9" y1="580.07" x2="69.4" y2="580.07" stroke="#333" stroke-width="1.1"/>
<text x="60.40" y="585.07" text-anchor="end" fill="#111"><tspan font-size="14.50">10</tspan><tspan dy="-5.51" font-size="10.73">3</tspan></text>
<line x1="64.9" y1="539.55" x2="69.4" y2="539.55" stroke="#333" stroke-width="1.1"/>
<text x="60.40" y="544.55" text-anchor="end" fill="#111"><tspan font-size="14.50">10</tspan><tspan dy="-5.51" font-size="10.73">4</tspan></text>
<line x1="64.9" y1="499.03" x2="69.4" y2="499.03" stroke="#333" stroke-width="1.1"/>
<text x="60.40" y="504.03" text-anchor="end" fill="#111"><tspan font-size="14.50">10</tspan><tspan dy="-5.51" font-size="10.73">5</tspan></text>
<line x1="64.9" y1="458.52" x2="69.4" y2="458.52" stroke="#333" stroke-width="1.1"/>
<text x="60.40" y="463.52" text-anchor="end" fill="#111"><tspan font-size="14.50">10</tspan><tspan dy="-5.51" font-size="10.73">6</tspan></text>
<line x1="64.9" y1="418.00" x2="69.4" y2="418.00" stroke="#333" stroke-width="1.1"/>
<text x="60.40" y="423.90" text-anchor="end" fill="#111"><tspan font-size="14.50">10</tspan><tspan dy="-5.51" font-size="10.73">7</tspan></text>
<text x="66.60" y="410.70" fill="#111"><tspan font-style="italic" font-size="14.5">T</tspan><tspan dy="4.35" font-size="10.73">min</tspan><tspan dy="-4.35" font-size="14.5"> = 300 K</tspan></text>
<text x="156.30" y="415.00" text-anchor="start" fill="#111"><tspan font-size="14.50">350 K</tspan></text>
<text x="287.50" y="410.50" fill="#111"><tspan font-style="italic" font-size="14.5">T</tspan><tspan dy="4.35" font-size="10.73">max</tspan><tspan dy="-4.35" font-size="14.5"> = 500 K</tspan></text>
<text x="90.50" y="643.30" text-anchor="start" fill="#111"><tspan font-size="12.60">(</tspan><tspan font-size="12.60">2.04×10, 4.84×10)</tspan></text>
<text x="173.40" y="577.00" text-anchor="start" fill="#111"><tspan font-size="12.60">(</tspan><tspan font-size="12.60">1.05×10</tspan><tspan dy="-4.79" font-size="8.82">3</tspan><tspan dy="4.79" font-size="12.60">, </tspan><tspan font-size="12.60">2.09×10</tspan><tspan dy="-4.79" font-size="8.82">3</tspan><tspan dy="4.79" font-size="12.60">)</tspan></text>
<text x="251.00" y="448.20" text-anchor="start" fill="#111"><tspan font-size="12.60">(</tspan><tspan font-size="12.60">9.82 × 10</tspan><tspan dy="-4.79" font-size="8.82">5</tspan><tspan dy="4.79" font-size="12.60">, </tspan><tspan font-size="12.60">1.47 × 10</tspan><tspan dy="-4.79" font-size="8.82">6</tspan><tspan dy="4.79" font-size="12.60">)</tspan></text>
<text x="322.40" y="651.40" text-anchor="start" fill="#ff0000"><tspan font-size="17.00" font-style="italic">ε</tspan><tspan font-size="17.00"> = 23</tspan></text>
<text x="25.40" y="528.50" text-anchor="middle" fill="#111" transform="rotate(-90 25.4 528.5)"><tspan font-style="italic" font-size="14.5">k</tspan><tspan dy="4.06" font-size="11.02">f</tspan><tspan dx="-3.67" dy="-10.15" font-size="11.02">S-Wig</tspan><tspan dy="6.09" font-size="14.5"> (s</tspan><tspan dy="-5.51" font-size="11.02">−1</tspan><tspan dy="5.51" font-size="14.5">)</tspan></text>
<line x1="484.73" y1="418.30" x2="484.73" y2="661.40" stroke="#d4d4d4" stroke-width="0.9" stroke-dasharray="2.2 0.9"/>
<line x1="450.10" y1="644.66" x2="484.73" y2="644.66" stroke="#d4d4d4" stroke-width="0.9" stroke-dasharray="2.2 0.9"/>
<line x1="567.42" y1="418.30" x2="567.42" y2="661.40" stroke="#d4d4d4" stroke-width="0.9" stroke-dasharray="2.2 0.9"/>
<line x1="450.10" y1="583.35" x2="567.42" y2="583.35" stroke="#d4d4d4" stroke-width="0.9" stroke-dasharray="2.2 0.9"/>
<line x1="711.39" y1="418.30" x2="711.39" y2="661.40" stroke="#d4d4d4" stroke-width="0.9" stroke-dasharray="2.2 0.9"/>
<line x1="450.10" y1="455.59" x2="711.39" y2="455.59" stroke="#d4d4d4" stroke-width="0.9" stroke-dasharray="2.2 0.9"/>
<polyline points="484.73,644.66 485.86,643.99 487.00,643.32 488.13,642.64 489.26,641.97 490.40,641.29 491.53,640.61 492.66,639.92 493.80,639.23 494.93,638.52 496.06,637.82 497.20,637.10 498.33,636.37 499.46,635.64 500.60,634.89 501.73,634.14 502.86,633.37 504.00,632.60 505.13,631.83 506.26,631.04 507.40,630.25 508.53,629.46 509.66,628.66 510.80,627.86 511.93,627.06 513.06,626.26 514.20,625.45 515.33,624.65 516.46,623.83 517.60,623.02 518.73,622.20 519.86,621.37 521.00,620.54 522.13,619.70 523.26,618.85 524.40,617.99 525.53,617.12 526.66,616.24 527.80,615.35 528.93,614.45 530.06,613.54 531.20,612.63 532.33,611.71 533.46,610.79 534.60,609.87 535.73,608.95 536.86,608.03 538.00,607.11 539.13,606.20 540.26,605.29 541.40,604.39 542.53,603.50 543.66,602.61 544.80,601.71 545.93,600.82 547.06,599.93 548.20,599.04 549.33,598.14 550.46,597.23 551.60,596.32 552.73,595.41 553.86,594.49 555.00,593.57 556.13,592.64 557.26,591.71 558.40,590.78 559.53,589.85 560.66,588.92 561.80,587.98 562.93,587.05 564.06,586.11 565.20,585.18 566.33,584.25 567.46,583.32 568.60,582.39 569.73,581.46 570.86,580.53 572.00,579.61 573.13,578.69 574.26,577.76 575.40,576.84 576.53,575.91 577.66,574.98 578.80,574.05 579.93,573.12 581.06,572.19 582.20,571.26 583.33,570.32 584.46,569.38 585.60,568.43 586.73,567.48 587.86,566.53 589.00,565.57 590.13,564.60 591.26,563.63 592.40,562.65 593.53,561.67 594.66,560.67 595.80,559.67 596.93,558.67 598.06,557.65 599.20,556.63 600.33,555.61 601.46,554.58 602.60,553.54 603.73,552.50 604.86,551.46 606.00,550.41 607.13,549.36 608.26,548.31 609.40,547.26 610.53,546.21 611.66,545.16 612.80,544.11 613.93,543.06 615.06,542.01 616.20,540.96 617.33,539.92 618.46,538.88 619.60,537.84 620.73,536.81 621.86,535.78 623.00,534.75 624.13,533.72 625.26,532.70 626.40,531.68 627.53,530.67 628.66,529.66 629.80,528.64 630.93,527.64 632.06,526.63 633.20,525.62 634.33,524.62 635.46,523.62 636.60,522.62 637.73,521.62 638.86,520.62 639.99,519.63 641.13,518.63 642.26,517.64 643.39,516.64 644.53,515.65 645.66,514.65 646.79,513.66 647.93,512.67 649.06,511.68 650.19,510.68 651.33,509.69 652.46,508.69 653.59,507.70 654.73,506.70 655.86,505.71 656.99,504.71 658.13,503.71 659.26,502.71 660.39,501.71 661.53,500.71 662.66,499.70 663.79,498.70 664.93,497.69 666.06,496.68 667.19,495.67 668.33,494.66 669.46,493.64 670.59,492.63 671.73,491.62 672.86,490.60 673.99,489.58 675.13,488.56 676.26,487.54 677.39,486.52 678.53,485.50 679.66,484.48 680.79,483.46 681.93,482.43 683.06,481.41 684.19,480.38 685.33,479.35 686.46,478.33 687.59,477.30 688.73,476.27 689.86,475.24 690.99,474.21 692.13,473.18 693.26,472.15 694.39,471.11 695.53,470.08 696.66,469.05 697.79,468.01 698.93,466.98 700.06,465.95 701.19,464.91 702.33,463.88 703.46,462.84 704.59,461.81 705.73,460.77 706.86,459.74 707.99,458.70 709.13,457.66 710.26,456.63 711.39,455.59" fill="none" stroke="#f38484" stroke-width="0.8"/>
<circle cx="484.73" cy="644.66" r="1.15" fill="#e3122f"/>
<circle cx="489.24" cy="641.98" r="1.15" fill="#e3122f"/>
<circle cx="493.76" cy="639.25" r="1.15" fill="#e3122f"/>
<circle cx="498.28" cy="636.40" r="1.15" fill="#e3122f"/>
<circle cx="502.81" cy="633.41" r="1.15" fill="#e3122f"/>
<circle cx="507.34" cy="630.29" r="1.15" fill="#e3122f"/>
<circle cx="511.88" cy="627.10" r="1.15" fill="#e3122f"/>
<circle cx="516.42" cy="623.87" r="1.15" fill="#e3122f"/>
<circle cx="520.97" cy="620.56" r="1.15" fill="#e3122f"/>
<circle cx="525.52" cy="617.13" r="1.15" fill="#e3122f"/>
<circle cx="530.07" cy="613.53" r="1.15" fill="#e3122f"/>
<circle cx="534.63" cy="609.84" r="1.15" fill="#e3122f"/>
<circle cx="539.20" cy="606.14" r="1.15" fill="#e3122f"/>
<circle cx="543.77" cy="602.52" r="1.15" fill="#e3122f"/>
<circle cx="548.34" cy="598.92" r="1.15" fill="#e3122f"/>
<circle cx="552.92" cy="595.26" r="1.15" fill="#e3122f"/>
<circle cx="557.50" cy="591.52" r="1.15" fill="#e3122f"/>
<circle cx="562.09" cy="587.74" r="1.15" fill="#e3122f"/>
<circle cx="566.68" cy="583.96" r="1.15" fill="#e3122f"/>
<circle cx="571.28" cy="580.19" r="1.15" fill="#e3122f"/>
<circle cx="575.88" cy="576.44" r="1.15" fill="#e3122f"/>
<circle cx="580.49" cy="572.66" r="1.15" fill="#e3122f"/>
<circle cx="585.10" cy="568.84" r="1.15" fill="#e3122f"/>
<circle cx="589.72" cy="564.95" r="1.15" fill="#e3122f"/>
<circle cx="594.34" cy="560.96" r="1.15" fill="#e3122f"/>
<circle cx="598.96" cy="556.84" r="1.15" fill="#e3122f"/>
<circle cx="603.60" cy="552.62" r="1.15" fill="#e3122f"/>
<circle cx="608.23" cy="548.34" r="1.15" fill="#e3122f"/>
<circle cx="612.87" cy="544.04" r="1.15" fill="#e3122f"/>
<circle cx="617.51" cy="539.75" r="1.15" fill="#e3122f"/>
<circle cx="622.16" cy="535.50" r="1.15" fill="#e3122f"/>
<circle cx="626.82" cy="531.31" r="1.15" fill="#e3122f"/>
<circle cx="631.48" cy="527.15" r="1.15" fill="#e3122f"/>
<circle cx="636.14" cy="523.02" r="1.15" fill="#e3122f"/>
<circle cx="640.81" cy="518.91" r="1.15" fill="#e3122f"/>
<circle cx="645.48" cy="514.81" r="1.15" fill="#e3122f"/>
<circle cx="650.16" cy="510.71" r="1.15" fill="#e3122f"/>
<circle cx="654.84" cy="506.60" r="1.15" fill="#e3122f"/>
<circle cx="659.53" cy="502.48" r="1.15" fill="#e3122f"/>
<circle cx="664.22" cy="498.32" r="1.15" fill="#e3122f"/>
<circle cx="668.92" cy="494.13" r="1.15" fill="#e3122f"/>
<circle cx="673.62" cy="489.92" r="1.15" fill="#e3122f"/>
<circle cx="678.32" cy="485.69" r="1.15" fill="#e3122f"/>
<circle cx="683.03" cy="481.43" r="1.15" fill="#e3122f"/>
<circle cx="687.75" cy="477.16" r="1.15" fill="#e3122f"/>
<circle cx="692.47" cy="472.87" r="1.15" fill="#e3122f"/>
<circle cx="697.19" cy="468.56" r="1.15" fill="#e3122f"/>
<circle cx="701.92" cy="464.25" r="1.15" fill="#e3122f"/>
<circle cx="706.66" cy="459.92" r="1.15" fill="#e3122f"/>
<circle cx="711.39" cy="455.59" r="1.15" fill="#e3122f"/>
<line x1="450.1" y1="418.3" x2="753.5" y2="418.3" stroke="#222" stroke-width="1.3"/>
<line x1="753.5" y1="418.3" x2="753.5" y2="661.4" stroke="#333" stroke-width="1.3"/>
<line x1="450.1" y1="661.4" x2="753.5" y2="661.4" stroke="#333" stroke-width="1.3"/>
<line x1="450.1" y1="418.3" x2="450.1" y2="661.4" stroke="#505050" stroke-width="1.3"/>
<line x1="450.10" y1="661.4" x2="450.10" y2="665.9" stroke="#333" stroke-width="1.1"/>
<text x="451.30" y="682.00" text-anchor="middle" fill="#111"><tspan font-size="14.50">10</tspan></text>
<line x1="500.67" y1="661.4" x2="500.67" y2="665.9" stroke="#333" stroke-width="1.1"/>
<text x="501.87" y="682.00" text-anchor="middle" fill="#111"><tspan font-size="14.50">10</tspan><tspan dy="-5.51" font-size="10.73">2</tspan></text>
<line x1="551.23" y1="661.4" x2="551.23" y2="665.9" stroke="#333" stroke-width="1.1"/>
<text x="552.43" y="682.00" text-anchor="middle" fill="#111"><tspan font-size="14.50">10</tspan><tspan dy="-5.51" font-size="10.73">3</tspan></text>
<line x1="601.80" y1="661.4" x2="601.80" y2="665.9" stroke="#333" stroke-width="1.1"/>
<text x="603.00" y="682.00" text-anchor="middle" fill="#111"><tspan font-size="14.50">10</tspan><tspan dy="-5.51" font-size="10.73">4</tspan></text>
<line x1="652.37" y1="661.4" x2="652.37" y2="665.9" stroke="#333" stroke-width="1.1"/>
<text x="653.57" y="682.00" text-anchor="middle" fill="#111"><tspan font-size="14.50">10</tspan><tspan dy="-5.51" font-size="10.73">5</tspan></text>
<line x1="702.93" y1="661.4" x2="702.93" y2="665.9" stroke="#333" stroke-width="1.1"/>
<text x="704.13" y="682.00" text-anchor="middle" fill="#111"><tspan font-size="14.50">10</tspan><tspan dy="-5.51" font-size="10.73">6</tspan></text>
<line x1="753.50" y1="661.4" x2="753.50" y2="665.9" stroke="#333" stroke-width="1.1"/>
<text x="754.70" y="682.00" text-anchor="middle" fill="#111"><tspan font-size="14.50">10</tspan><tspan dy="-5.51" font-size="10.73">7</tspan></text>
<line x1="445.6" y1="661.40" x2="450.1" y2="661.40" stroke="#333" stroke-width="1.1"/>
<text x="441.10" y="666.40" text-anchor="end" fill="#111"><tspan font-size="14.50">10</tspan><tspan dy="-5.51" font-size="10.73">2</tspan></text>
<line x1="445.6" y1="612.78" x2="450.1" y2="612.78" stroke="#333" stroke-width="1.1"/>
<text x="441.10" y="617.78" text-anchor="end" fill="#111"><tspan font-size="14.50">10</tspan><tspan dy="-5.51" font-size="10.73">3</tspan></text>
<line x1="445.6" y1="564.16" x2="450.1" y2="564.16" stroke="#333" stroke-width="1.1"/>
<text x="441.10" y="569.16" text-anchor="end" fill="#111"><tspan font-size="14.50">10</tspan><tspan dy="-5.51" font-size="10.73">4</tspan></text>
<line x1="445.6" y1="515.54" x2="450.1" y2="515.54" stroke="#333" stroke-width="1.1"/>
<text x="441.10" y="520.54" text-anchor="end" fill="#111"><tspan font-size="14.50">10</tspan><tspan dy="-5.51" font-size="10.73">5</tspan></text>
<line x1="445.6" y1="466.92" x2="450.1" y2="466.92" stroke="#333" stroke-width="1.1"/>
<text x="441.10" y="471.92" text-anchor="end" fill="#111"><tspan font-size="14.50">10</tspan><tspan dy="-5.51" font-size="10.73">6</tspan></text>
<line x1="445.6" y1="418.30" x2="450.1" y2="418.30" stroke="#333" stroke-width="1.1"/>
<text x="441.10" y="424.20" text-anchor="end" fill="#111"><tspan font-size="14.50">10</tspan><tspan dy="-5.51" font-size="10.73">7</tspan></text>
<text x="455.40" y="410.70" fill="#111"><tspan font-style="italic" font-size="14.5">T</tspan><tspan dy="4.35" font-size="10.73">min</tspan><tspan dy="-4.35" font-size="14.5"> = 300 K</tspan></text>
<text x="551.60" y="415.20" text-anchor="start" fill="#111"><tspan font-size="14.50">350 K</tspan></text>
<text x="676.10" y="410.50" fill="#111"><tspan font-style="italic" font-size="14.5">T</tspan><tspan dy="4.35" font-size="10.73">max</tspan><tspan dy="-4.35" font-size="14.5"> = 500 K</tspan></text>
<text x="488.00" y="652.00" text-anchor="start" fill="#111"><tspan font-size="12.60">(</tspan><tspan font-size="12.60">4.84×10, </tspan><tspan font-size="12.60">2.21×10</tspan><tspan dy="-4.79" font-size="8.82">2</tspan><tspan dy="4.79" font-size="12.60">)</tspan></text>
<text x="570.50" y="592.00" text-anchor="start" fill="#111"><tspan font-size="12.60">(</tspan><tspan font-size="12.60">2.09×10</tspan><tspan dy="-4.79" font-size="8.82">3</tspan><tspan dy="4.79" font-size="12.60">, </tspan><tspan font-size="12.60">4.03×10</tspan><tspan dy="-4.79" font-size="8.82">3</tspan><tspan dy="4.79" font-size="12.60">)</tspan></text>
<text x="631.00" y="450.00" text-anchor="start" fill="#111"><tspan font-size="12.60">(</tspan><tspan font-size="12.60">1.47 × 10</tspan><tspan dy="-4.79" font-size="8.82">6</tspan><tspan dy="4.79" font-size="12.60">, </tspan><tspan font-size="12.60">1.71 × 10</tspan><tspan dy="-4.79" font-size="8.82">6</tspan><tspan dy="4.79" font-size="12.60">)</tspan></text>
<text x="698.40" y="651.30" text-anchor="start" fill="#ff0000"><tspan font-size="17.00" font-style="italic">ε</tspan><tspan font-size="17.00"> = 23</tspan></text>
<line x1="108.64" y1="792.40" x2="108.64" y2="1037.80" stroke="#d4d4d4" stroke-width="0.9" stroke-dasharray="2.2 0.9"/>
<line x1="68.60" y1="1020.04" x2="108.64" y2="1020.04" stroke="#d4d4d4" stroke-width="0.9" stroke-dasharray="2.2 0.9"/>
<line x1="186.39" y1="792.40" x2="186.39" y2="1037.80" stroke="#d4d4d4" stroke-width="0.9" stroke-dasharray="2.2 0.9"/>
<line x1="68.60" y1="951.85" x2="186.39" y2="951.85" stroke="#d4d4d4" stroke-width="0.9" stroke-dasharray="2.2 0.9"/>
<line x1="320.82" y1="792.40" x2="320.82" y2="1037.80" stroke="#d4d4d4" stroke-width="0.9" stroke-dasharray="2.2 0.9"/>
<line x1="68.60" y1="834.09" x2="320.82" y2="834.09" stroke="#d4d4d4" stroke-width="0.9" stroke-dasharray="2.2 0.9"/>
<polyline points="108.64,1020.04 109.70,1019.11 110.76,1018.18 111.82,1017.25 112.88,1016.32 113.94,1015.39 115.00,1014.46 116.06,1013.53 117.12,1012.60 118.18,1011.67 119.25,1010.74 120.31,1009.80 121.37,1008.87 122.43,1007.94 123.49,1007.01 124.55,1006.08 125.61,1005.15 126.67,1004.22 127.73,1003.29 128.79,1002.36 129.85,1001.43 130.92,1000.50 131.98,999.57 133.04,998.64 134.10,997.71 135.16,996.77 136.22,995.84 137.28,994.91 138.34,993.98 139.40,993.05 140.46,992.12 141.52,991.19 142.59,990.26 143.65,989.33 144.71,988.40 145.77,987.47 146.83,986.54 147.89,985.61 148.95,984.68 150.01,983.75 151.07,982.82 152.13,981.89 153.20,980.96 154.26,980.03 155.32,979.10 156.38,978.16 157.44,977.23 158.50,976.30 159.56,975.37 160.62,974.44 161.68,973.51 162.74,972.58 163.80,971.65 164.87,970.72 165.93,969.79 166.99,968.86 168.05,967.93 169.11,967.00 170.17,966.07 171.23,965.14 172.29,964.21 173.35,963.28 174.41,962.35 175.47,961.42 176.54,960.49 177.60,959.56 178.66,958.63 179.72,957.70 180.78,956.77 181.84,955.84 182.90,954.91 183.96,953.98 185.02,953.05 186.08,952.12 187.15,951.19 188.21,950.26 189.27,949.33 190.33,948.40 191.39,947.47 192.45,946.54 193.51,945.61 194.57,944.68 195.63,943.75 196.69,942.82 197.75,941.89 198.82,940.96 199.88,940.03 200.94,939.10 202.00,938.17 203.06,937.24 204.12,936.31 205.18,935.38 206.24,934.45 207.30,933.52 208.36,932.59 209.42,931.66 210.49,930.73 211.55,929.80 212.61,928.87 213.67,927.94 214.73,927.01 215.79,926.08 216.85,925.15 217.91,924.22 218.97,923.29 220.03,922.36 221.10,921.43 222.16,920.50 223.22,919.57 224.28,918.64 225.34,917.71 226.40,916.78 227.46,915.85 228.52,914.92 229.58,913.99 230.64,913.06 231.70,912.14 232.77,911.21 233.83,910.28 234.89,909.35 235.95,908.42 237.01,907.49 238.07,906.56 239.13,905.63 240.19,904.70 241.25,903.77 242.31,902.84 243.37,901.91 244.44,900.98 245.50,900.05 246.56,899.12 247.62,898.19 248.68,897.26 249.74,896.33 250.80,895.40 251.86,894.47 252.92,893.55 253.98,892.62 255.05,891.69 256.11,890.76 257.17,889.83 258.23,888.90 259.29,887.97 260.35,887.04 261.41,886.11 262.47,885.18 263.53,884.25 264.59,883.32 265.65,882.39 266.72,881.46 267.78,880.53 268.84,879.61 269.90,878.68 270.96,877.75 272.02,876.82 273.08,875.89 274.14,874.96 275.20,874.03 276.26,873.10 277.32,872.17 278.39,871.24 279.45,870.31 280.51,869.38 281.57,868.46 282.63,867.53 283.69,866.60 284.75,865.67 285.81,864.74 286.87,863.81 287.93,862.88 289.00,861.95 290.06,861.02 291.12,860.09 292.18,859.17 293.24,858.24 294.30,857.31 295.36,856.38 296.42,855.45 297.48,854.52 298.54,853.59 299.60,852.66 300.67,851.73 301.73,850.80 302.79,849.88 303.85,848.95 304.91,848.02 305.97,847.09 307.03,846.16 308.09,845.23 309.15,844.30 310.21,843.37 311.27,842.44 312.34,841.52 313.40,840.59 314.46,839.66 315.52,838.73 316.58,837.80 317.64,836.87 318.70,835.94 319.76,835.01 320.82,834.09" fill="none" stroke="#7a7a7a" stroke-width="0.8"/>
<circle cx="108.64" cy="1020.04" r="1.2" fill="#111"/>
<circle cx="112.86" cy="1016.34" r="1.2" fill="#111"/>
<circle cx="117.09" cy="1012.63" r="1.2" fill="#111"/>
<circle cx="121.32" cy="1008.91" r="1.2" fill="#111"/>
<circle cx="125.56" cy="1005.19" r="1.2" fill="#111"/>
<circle cx="129.80" cy="1001.47" r="1.2" fill="#111"/>
<circle cx="134.05" cy="997.75" r="1.2" fill="#111"/>
<circle cx="138.30" cy="994.02" r="1.2" fill="#111"/>
<circle cx="142.56" cy="990.29" r="1.2" fill="#111"/>
<circle cx="146.82" cy="986.55" r="1.2" fill="#111"/>
<circle cx="151.08" cy="982.81" r="1.2" fill="#111"/>
<circle cx="155.35" cy="979.07" r="1.2" fill="#111"/>
<circle cx="159.62" cy="975.32" r="1.2" fill="#111"/>
<circle cx="163.90" cy="971.57" r="1.2" fill="#111"/>
<circle cx="168.18" cy="967.81" r="1.2" fill="#111"/>
<circle cx="172.47" cy="964.06" r="1.2" fill="#111"/>
<circle cx="176.76" cy="960.29" r="1.2" fill="#111"/>
<circle cx="181.05" cy="956.53" r="1.2" fill="#111"/>
<circle cx="185.35" cy="952.76" r="1.2" fill="#111"/>
<circle cx="189.66" cy="948.99" r="1.2" fill="#111"/>
<circle cx="193.97" cy="945.21" r="1.2" fill="#111"/>
<circle cx="198.28" cy="941.43" r="1.2" fill="#111"/>
<circle cx="202.60" cy="937.64" r="1.2" fill="#111"/>
<circle cx="206.92" cy="933.86" r="1.2" fill="#111"/>
<circle cx="211.24" cy="930.06" r="1.2" fill="#111"/>
<circle cx="215.57" cy="926.27" r="1.2" fill="#111"/>
<circle cx="219.91" cy="922.47" r="1.2" fill="#111"/>
<circle cx="224.25" cy="918.67" r="1.2" fill="#111"/>
<circle cx="228.59" cy="914.86" r="1.2" fill="#111"/>
<circle cx="232.94" cy="911.05" r="1.2" fill="#111"/>
<circle cx="237.29" cy="907.24" r="1.2" fill="#111"/>
<circle cx="241.65" cy="903.42" r="1.2" fill="#111"/>
<circle cx="246.01" cy="899.60" r="1.2" fill="#111"/>
<circle cx="250.38" cy="895.78" r="1.2" fill="#111"/>
<circle cx="254.75" cy="891.95" r="1.2" fill="#111"/>
<circle cx="259.12" cy="888.12" r="1.2" fill="#111"/>
<circle cx="263.50" cy="884.28" r="1.2" fill="#111"/>
<circle cx="267.88" cy="880.44" r="1.2" fill="#111"/>
<circle cx="272.27" cy="876.60" r="1.2" fill="#111"/>
<circle cx="276.66" cy="872.75" r="1.2" fill="#111"/>
<circle cx="281.06" cy="868.90" r="1.2" fill="#111"/>
<circle cx="285.46" cy="865.05" r="1.2" fill="#111"/>
<circle cx="289.86" cy="861.19" r="1.2" fill="#111"/>
<circle cx="294.27" cy="857.33" r="1.2" fill="#111"/>
<circle cx="298.69" cy="853.47" r="1.2" fill="#111"/>
<circle cx="303.11" cy="849.60" r="1.2" fill="#111"/>
<circle cx="307.53" cy="845.72" r="1.2" fill="#111"/>
<circle cx="311.96" cy="841.85" r="1.2" fill="#111"/>
<circle cx="316.39" cy="837.97" r="1.2" fill="#111"/>
<circle cx="320.82" cy="834.09" r="1.2" fill="#111"/>
<line x1="68.6" y1="792.4" x2="375" y2="792.4" stroke="#222" stroke-width="1.3"/>
<line x1="375" y1="792.4" x2="375" y2="1037.8" stroke="#4a4a4a" stroke-width="1.3"/>
<line x1="68.6" y1="1037.8" x2="375" y2="1037.8" stroke="#333" stroke-width="1.3"/>
<line x1="68.6" y1="792.4" x2="68.6" y2="1037.8" stroke="#333" stroke-width="1.3"/>
<line x1="68.60" y1="1037.8" x2="68.60" y2="1042.3" stroke="#333" stroke-width="1.1"/>
<text x="69.60" y="1059.00" text-anchor="middle" fill="#111"><tspan font-size="14.50">10</tspan><tspan dy="-5.51" font-size="10.73">−4</tspan></text>
<line x1="106.90" y1="1037.8" x2="106.90" y2="1042.3" stroke="#333" stroke-width="1.1"/>
<text x="107.90" y="1059.00" text-anchor="middle" fill="#111"><tspan font-size="14.50">10</tspan><tspan dy="-5.51" font-size="10.73">−3</tspan></text>
<line x1="145.20" y1="1037.8" x2="145.20" y2="1042.3" stroke="#333" stroke-width="1.1"/>
<text x="146.20" y="1059.00" text-anchor="middle" fill="#111"><tspan font-size="14.50">10</tspan><tspan dy="-5.51" font-size="10.73">−2</tspan></text>
<line x1="183.50" y1="1037.8" x2="183.50" y2="1042.3" stroke="#333" stroke-width="1.1"/>
<text x="184.50" y="1059.00" text-anchor="middle" fill="#111"><tspan font-size="14.50">10</tspan><tspan dy="-5.51" font-size="10.73">−1</tspan></text>
<line x1="221.80" y1="1037.8" x2="221.80" y2="1042.3" stroke="#333" stroke-width="1.1"/>
<text x="222.80" y="1059.00" text-anchor="middle" fill="#111"><tspan font-size="14.50">10</tspan><tspan dy="-5.51" font-size="10.73">0</tspan></text>
<line x1="260.10" y1="1037.8" x2="260.10" y2="1042.3" stroke="#333" stroke-width="1.1"/>
<text x="261.10" y="1059.00" text-anchor="middle" fill="#111"><tspan font-size="14.50">10</tspan><tspan dy="-5.51" font-size="10.73">1</tspan></text>
<line x1="298.40" y1="1037.8" x2="298.40" y2="1042.3" stroke="#333" stroke-width="1.1"/>
<text x="299.40" y="1059.00" text-anchor="middle" fill="#111"><tspan font-size="14.50">10</tspan><tspan dy="-5.51" font-size="10.73">2</tspan></text>
<line x1="336.70" y1="1037.8" x2="336.70" y2="1042.3" stroke="#333" stroke-width="1.1"/>
<text x="337.70" y="1059.00" text-anchor="middle" fill="#111"><tspan font-size="14.50">10</tspan><tspan dy="-5.51" font-size="10.73">3</tspan></text>
<line x1="375.00" y1="1037.8" x2="375.00" y2="1042.3" stroke="#333" stroke-width="1.1"/>
<text x="376.00" y="1059.00" text-anchor="middle" fill="#111"><tspan font-size="14.50">10</tspan><tspan dy="-5.51" font-size="10.73">4</tspan></text>
<line x1="64.1" y1="1037.80" x2="68.6" y2="1037.80" stroke="#333" stroke-width="1.1"/>
<text x="59.00" y="1041.90" text-anchor="end" fill="#111"><tspan font-size="14.50">10</tspan><tspan dy="-5.51" font-size="10.73">−3</tspan></text>
<line x1="64.1" y1="1002.74" x2="68.6" y2="1002.74" stroke="#333" stroke-width="1.1"/>
<text x="59.00" y="1007.74" text-anchor="end" fill="#111"><tspan font-size="14.50">10</tspan><tspan dy="-5.51" font-size="10.73">−2</tspan></text>
<line x1="64.1" y1="967.69" x2="68.6" y2="967.69" stroke="#333" stroke-width="1.1"/>
<text x="59.00" y="972.69" text-anchor="end" fill="#111"><tspan font-size="14.50">10</tspan><tspan dy="-5.51" font-size="10.73">−1</tspan></text>
<line x1="64.1" y1="932.63" x2="68.6" y2="932.63" stroke="#333" stroke-width="1.1"/>
<text x="59.00" y="937.63" text-anchor="end" fill="#111"><tspan font-size="14.50">1</tspan></text>
<line x1="64.1" y1="897.57" x2="68.6" y2="897.57" stroke="#333" stroke-width="1.1"/>
<text x="59.00" y="902.57" text-anchor="end" fill="#111"><tspan font-size="14.50">10</tspan></text>
<line x1="64.1" y1="862.51" x2="68.6" y2="862.51" stroke="#333" stroke-width="1.1"/>
<text x="59.00" y="867.51" text-anchor="end" fill="#111"><tspan font-size="14.50">10</tspan><tspan dy="-5.51" font-size="10.73">2</tspan></text>
<line x1="64.1" y1="827.46" x2="68.6" y2="827.46" stroke="#333" stroke-width="1.1"/>
<text x="59.00" y="832.46" text-anchor="end" fill="#111"><tspan font-size="14.50">10</tspan><tspan dy="-5.51" font-size="10.73">3</tspan></text>
<line x1="64.1" y1="792.40" x2="68.6" y2="792.40" stroke="#333" stroke-width="1.1"/>
<text x="59.00" y="798.60" text-anchor="end" fill="#111"><tspan font-size="14.50">10</tspan><tspan dy="-5.51" font-size="10.73">4</tspan></text>
<text x="76.40" y="785.00" fill="#111"><tspan font-style="italic" font-size="14.5">T</tspan><tspan dy="4.35" font-size="10.73">min</tspan><tspan dy="-4.35" font-size="14.5"> = 300K</tspan></text>
<text x="172.00" y="790.00" text-anchor="start" fill="#111"><tspan font-size="14.50">350K</tspan></text>
<text x="292.50" y="784.80" fill="#111"><tspan font-style="italic" font-size="14.5">T</tspan><tspan dy="4.35" font-size="10.73">max</tspan><tspan dy="-4.35" font-size="14.5"> = 500 K</tspan></text>
<text x="110.80" y="1028.30" text-anchor="start" fill="#111"><tspan font-size="12.60">(</tspan><tspan font-size="12.60">1.11×10</tspan><tspan dy="-4.79" font-size="8.82">−3</tspan><tspan dy="4.79" font-size="12.60">, </tspan><tspan font-size="12.60">3.21×10</tspan><tspan dy="-4.79" font-size="8.82">−3</tspan><tspan dy="4.79" font-size="12.60">)</tspan></text>
<text x="187.10" y="961.20" text-anchor="start" fill="#111"><tspan font-size="12.60">(</tspan><tspan font-size="12.60">1.19×10</tspan><tspan dy="-4.79" font-size="8.82">−1</tspan><tspan dy="4.79" font-size="12.60">, </tspan><tspan font-size="12.60">2.83×10</tspan><tspan dy="-4.79" font-size="8.82">−1</tspan><tspan dy="4.79" font-size="12.60">)</tspan></text>
<text x="262.20" y="828.70" text-anchor="start" fill="#111"><tspan font-size="12.60">(</tspan><tspan font-size="12.60">3.85×10</tspan><tspan dy="-4.79" font-size="8.82">2</tspan><tspan dy="4.79" font-size="12.60">, </tspan><tspan font-size="12.60">6.47×10</tspan><tspan dy="-4.79" font-size="8.82">2</tspan><tspan dy="4.79" font-size="12.60">)</tspan></text>
<text x="328.80" y="1027.40" text-anchor="start" fill="#111"><tspan font-size="17.00" font-style="italic">ε</tspan><tspan font-size="17.00"> = 1</tspan></text>
<text x="19.30" y="908.00" text-anchor="middle" fill="#111" transform="rotate(-90 19.3 908)"><tspan font-style="italic" font-size="14.5">k</tspan><tspan dy="4.06" font-size="11.02">f</tspan><tspan dx="-3.67" dy="-10.15" font-size="11.02">S-Wig</tspan><tspan dy="6.09" font-size="14.5"> (s</tspan><tspan dy="-5.51" font-size="11.02">−1</tspan><tspan dy="5.51" font-size="14.5">)</tspan></text>
<text x="220.50" y="1083.00" text-anchor="middle" fill="#111"><tspan font-style="italic" font-size="14.5">k</tspan><tspan dy="4.06" font-size="11.02">f</tspan><tspan dx="-3.67" dy="-10.15" font-size="11.02">Q-Vib</tspan><tspan dy="6.09" font-size="14.5"> (s</tspan><tspan dy="-5.51" font-size="11.02">−1</tspan><tspan dy="5.51" font-size="14.5">)</tspan></text>
<line x1="470.41" y1="792.50" x2="470.41" y2="1038.30" stroke="#d4d4d4" stroke-width="0.9" stroke-dasharray="2.2 0.9"/>
<line x1="446.00" y1="972.21" x2="470.41" y2="972.21" stroke="#d4d4d4" stroke-width="0.9" stroke-dasharray="2.2 0.9"/>
<line x1="520.04" y1="792.50" x2="520.04" y2="1038.30" stroke="#d4d4d4" stroke-width="0.9" stroke-dasharray="2.2 0.9"/>
<line x1="446.00" y1="983.37" x2="520.04" y2="983.37" stroke="#d4d4d4" stroke-width="0.9" stroke-dasharray="2.2 0.9"/>
<line x1="691.36" y1="792.50" x2="691.36" y2="1038.30" stroke="#d4d4d4" stroke-width="0.9" stroke-dasharray="2.2 0.9"/>
<line x1="446.00" y1="844.73" x2="691.36" y2="844.73" stroke="#d4d4d4" stroke-width="0.9" stroke-dasharray="2.2 0.9"/>
<polyline points="470.40,972.00 475.90,987.70 481.40,992.90 481.90,993.05 482.40,993.21 482.90,993.36 483.40,993.50 483.90,993.64 484.40,993.78 484.90,993.90 485.40,994.02 485.90,994.13 486.40,994.22 486.90,994.30 487.40,994.37 487.90,994.42 488.40,994.46 488.90,994.48 489.40,994.49 489.90,994.49 490.40,994.48 490.90,994.46 491.40,994.43 491.90,994.39 492.40,994.34 492.90,994.27 493.40,994.21 493.90,994.13 494.40,994.05 494.90,993.95 495.40,993.85 495.90,993.75 496.40,993.63 496.90,993.51 497.40,993.39 497.90,993.25 498.40,993.12 498.90,992.97 499.40,992.82 499.90,992.67 500.40,992.51 500.90,992.34 501.40,992.17 501.90,991.99 502.40,991.80 502.90,991.61 503.40,991.42 503.90,991.22 504.40,991.01 504.90,990.80 505.40,990.59 505.90,990.37 506.40,990.15 506.90,989.92 507.40,989.69 507.90,989.46 508.40,989.23 508.90,988.99 509.40,988.76 509.90,988.52 510.40,988.29 510.90,988.05 511.40,987.81 511.90,987.57 512.40,987.33 512.90,987.08 513.40,986.84 513.90,986.60 514.40,986.35 514.90,986.10 515.40,985.85 515.90,985.60 516.40,985.35 516.90,985.09 517.40,984.83 517.90,984.56 518.40,984.30 518.90,984.02 519.40,983.74 519.90,983.46 520.40,983.17 520.90,982.87 521.40,982.57 521.90,982.26 522.40,981.95 522.90,981.63 523.40,981.32 523.90,981.00 524.40,980.69 524.90,980.37 525.40,980.05 525.90,979.74 526.40,979.42 526.90,979.11 527.40,978.81 527.90,978.50 528.40,978.19 528.90,977.88 529.40,977.58 529.90,977.27 530.40,976.96 530.90,976.65 531.40,976.34 531.90,976.02 532.40,975.71 532.90,975.39 533.40,975.07 533.90,974.74 534.40,974.42 534.90,974.09 535.40,973.75 535.90,973.42 536.40,973.08 536.90,972.73 537.40,972.38 537.90,972.03 538.40,971.67 538.90,971.31 539.40,970.95 539.90,970.58 540.40,970.21 540.90,969.84 541.40,969.46 541.90,969.08 542.40,968.70 542.90,968.31 543.40,967.93 543.90,967.54 544.40,967.14 544.90,966.75 545.40,966.35 545.90,965.95 546.40,965.55 546.90,965.15 547.40,964.75 547.90,964.34 548.40,963.93 548.90,963.52 549.40,963.11 549.90,962.70 550.40,962.29 550.90,961.88 551.40,961.47 551.90,961.05 552.40,960.64 552.90,960.23 553.40,959.81 553.90,959.40 554.40,958.98 554.90,958.57 555.40,958.15 555.90,957.74 556.40,957.33 556.90,956.91 557.40,956.50 557.90,956.09 558.40,955.68 558.90,955.27 559.40,954.87 559.90,954.46 560.40,954.05 560.90,953.65 561.40,953.25 561.90,952.85 562.40,952.45 562.90,952.06 563.40,951.66 563.90,951.27 564.40,950.88 564.90,950.50 565.40,950.11 565.90,949.73 566.40,949.35 566.90,948.97 567.40,948.59 567.90,948.22 568.40,947.84 568.90,947.47 569.40,947.10 569.90,946.73 570.40,946.36 570.90,945.99 571.40,945.63 571.90,945.26 572.40,944.90 572.90,944.54 573.40,944.18 573.90,943.82 574.40,943.46 574.90,943.10 575.40,942.74 575.90,942.38 576.40,942.03 576.90,941.67 577.40,941.31 577.90,940.96 578.40,940.60 578.90,940.25 579.40,939.89 579.90,939.54 580.40,939.18 580.90,938.83 581.40,938.47 581.90,938.12 582.40,937.76 582.90,937.41 583.40,937.05 583.90,936.70 584.40,936.34 584.90,935.98 585.40,935.62 585.90,935.27 586.40,934.91 586.90,934.55 587.40,934.19 587.90,933.82 588.40,933.46 588.90,933.10 589.40,932.73 589.90,932.37 590.40,932.00 590.90,931.63 591.40,931.26 591.90,930.89 592.40,930.52 592.90,930.14 593.40,929.76 593.90,929.39 594.40,929.01 594.90,928.62 595.40,928.24 595.90,927.86 596.40,927.47 596.90,927.08 597.40,926.69 597.90,926.29 598.40,925.90 598.90,925.50 599.40,925.10 599.90,924.70 600.40,924.29 600.90,923.89 601.40,923.48 601.90,923.07 602.40,922.66 602.90,922.24 603.40,921.83 603.90,921.41 604.40,921.00 604.90,920.58 605.40,920.16 605.90,919.74 606.40,919.31 606.90,918.89 607.40,918.46 607.90,918.04 608.40,917.61 608.90,917.18 609.40,916.75 609.90,916.32 610.40,915.88 610.90,915.45 611.40,915.02 611.90,914.58 612.40,914.15 612.90,913.71 613.40,913.28 613.90,912.84 614.40,912.40 614.90,911.96 615.40,911.52 615.90,911.08 616.40,910.64 616.90,910.20 617.40,909.76 617.90,909.32 618.40,908.88 618.90,908.44 619.40,908.00 619.90,907.56 620.40,907.12 620.90,906.68 621.40,906.24 621.90,905.80 622.40,905.36 622.90,904.92 623.40,904.48 623.90,904.04 624.40,903.60 624.90,903.16 625.40,902.72 625.90,902.29 626.40,901.85 626.90,901.41 627.40,900.98 627.90,900.54 628.40,900.10 628.90,899.67 629.40,899.24 629.90,898.80 630.40,898.37 630.90,897.93 631.40,897.50 631.90,897.07 632.40,896.64 632.90,896.20 633.40,895.77 633.90,895.34 634.40,894.91 634.90,894.48 635.40,894.05 635.90,893.62 636.40,893.19 636.90,892.76 637.40,892.33 637.90,891.91 638.40,891.48 638.90,891.05 639.40,890.62 639.90,890.20 640.40,889.77 640.90,889.34 641.40,888.92 641.90,888.49 642.40,888.07 642.90,887.64 643.40,887.22 643.90,886.79 644.40,886.37 644.90,885.95 645.40,885.52 645.90,885.10 646.40,884.68 646.90,884.25 647.40,883.83 647.90,883.41 648.40,882.99 648.90,882.57 649.40,882.14 649.90,881.72 650.40,881.30 650.90,880.88 651.40,880.46 651.90,880.04 652.40,879.61 652.90,879.19 653.40,878.77 653.90,878.35 654.40,877.93 654.90,877.51 655.40,877.08 655.90,876.66 656.40,876.24 656.90,875.81 657.40,875.39 657.90,874.97 658.40,874.54 658.90,874.12 659.40,873.69 659.90,873.26 660.40,872.84 660.90,872.41 661.40,871.98 661.90,871.55 662.40,871.13 662.90,870.69 663.40,870.26 663.90,869.83 664.40,869.40 664.90,868.97 665.40,868.53 665.90,868.10 666.40,867.66 666.90,867.22 667.40,866.79 667.90,866.35 668.40,865.91 668.90,865.46 669.40,865.02 669.90,864.58 670.40,864.13 670.90,863.69 671.40,863.24 671.90,862.79 672.40,862.34 672.90,861.89 673.40,861.44 673.90,860.98 674.40,860.53 674.90,860.08 675.40,859.62 675.90,859.16 676.40,858.70 676.90,858.25 677.40,857.79 677.90,857.33 678.40,856.86 678.90,856.40 679.40,855.94 679.90,855.48 680.40,855.01 680.90,854.55 681.40,854.08 681.90,853.62 682.40,853.15 682.90,852.68 683.40,852.21 683.90,851.75 684.40,851.28 684.90,850.81 685.40,850.34 685.90,849.87 686.40,849.40 686.90,848.93 687.40,848.46 687.90,847.99 688.40,847.52 688.90,847.05 689.40,846.58 689.90,846.10 690.40,845.63 690.90,845.16 691.36,844.73" fill="none" stroke="#7a7a7a" stroke-width="0.8"/>
<circle cx="470.40" cy="972.00" r="1.2" fill="#111"/>
<circle cx="475.92" cy="987.72" r="1.2" fill="#111"/>
<circle cx="481.45" cy="992.91" r="1.2" fill="#111"/>
<circle cx="486.97" cy="994.31" r="1.2" fill="#111"/>
<circle cx="492.50" cy="994.32" r="1.2" fill="#111"/>
<circle cx="498.02" cy="993.22" r="1.2" fill="#111"/>
<circle cx="503.54" cy="991.36" r="1.2" fill="#111"/>
<circle cx="509.07" cy="988.92" r="1.2" fill="#111"/>
<circle cx="514.59" cy="986.25" r="1.2" fill="#111"/>
<circle cx="520.12" cy="983.33" r="1.2" fill="#111"/>
<circle cx="525.64" cy="979.90" r="1.2" fill="#111"/>
<circle cx="531.16" cy="976.49" r="1.2" fill="#111"/>
<circle cx="536.69" cy="972.88" r="1.2" fill="#111"/>
<circle cx="542.21" cy="968.84" r="1.2" fill="#111"/>
<circle cx="547.73" cy="964.47" r="1.2" fill="#111"/>
<circle cx="553.26" cy="959.93" r="1.2" fill="#111"/>
<circle cx="558.78" cy="955.37" r="1.2" fill="#111"/>
<circle cx="564.31" cy="950.96" r="1.2" fill="#111"/>
<circle cx="569.83" cy="946.78" r="1.2" fill="#111"/>
<circle cx="575.35" cy="942.77" r="1.2" fill="#111"/>
<circle cx="580.88" cy="938.84" r="1.2" fill="#111"/>
<circle cx="586.40" cy="934.91" r="1.2" fill="#111"/>
<circle cx="591.93" cy="930.87" r="1.2" fill="#111"/>
<circle cx="597.45" cy="926.65" r="1.2" fill="#111"/>
<circle cx="602.97" cy="922.18" r="1.2" fill="#111"/>
<circle cx="608.50" cy="917.52" r="1.2" fill="#111"/>
<circle cx="614.02" cy="912.73" r="1.2" fill="#111"/>
<circle cx="619.55" cy="907.87" r="1.2" fill="#111"/>
<circle cx="625.07" cy="903.01" r="1.2" fill="#111"/>
<circle cx="630.59" cy="898.20" r="1.2" fill="#111"/>
<circle cx="636.12" cy="893.43" r="1.2" fill="#111"/>
<circle cx="641.64" cy="888.71" r="1.2" fill="#111"/>
<circle cx="647.16" cy="884.03" r="1.2" fill="#111"/>
<circle cx="652.69" cy="879.37" r="1.2" fill="#111"/>
<circle cx="658.21" cy="874.70" r="1.2" fill="#111"/>
<circle cx="663.74" cy="869.97" r="1.2" fill="#111"/>
<circle cx="669.26" cy="865.15" r="1.2" fill="#111"/>
<circle cx="674.78" cy="860.18" r="1.2" fill="#111"/>
<circle cx="680.31" cy="855.10" r="1.2" fill="#111"/>
<circle cx="685.83" cy="849.93" r="1.2" fill="#111"/>
<circle cx="691.36" cy="844.73" r="1.2" fill="#111"/>
<line x1="446" y1="792.5" x2="752" y2="792.5" stroke="#222" stroke-width="1.3"/>
<line x1="752" y1="792.5" x2="752" y2="1038.3" stroke="#4a4a4a" stroke-width="1.3"/>
<line x1="446" y1="1038.3" x2="752" y2="1038.3" stroke="#333" stroke-width="1.3"/>
<line x1="446" y1="792.5" x2="446" y2="1038.3" stroke="#505050" stroke-width="1.3"/>
<line x1="446.00" y1="1038.3" x2="446.00" y2="1042.8" stroke="#333" stroke-width="1.1"/>
<text x="447.00" y="1059.50" text-anchor="middle" fill="#111"><tspan font-size="14.50">10</tspan><tspan dy="-5.51" font-size="10.73">−2</tspan></text>
<line x1="497.00" y1="1038.3" x2="497.00" y2="1042.8" stroke="#333" stroke-width="1.1"/>
<text x="498.00" y="1059.50" text-anchor="middle" fill="#111"><tspan font-size="14.50">10</tspan><tspan dy="-5.51" font-size="10.73">−1</tspan></text>
<line x1="548.00" y1="1038.3" x2="548.00" y2="1042.8" stroke="#333" stroke-width="1.1"/>
<text x="549.00" y="1059.50" text-anchor="middle" fill="#111"><tspan font-size="14.50">10</tspan><tspan dy="-5.51" font-size="10.73">0</tspan></text>
<line x1="599.00" y1="1038.3" x2="599.00" y2="1042.8" stroke="#333" stroke-width="1.1"/>
<text x="600.00" y="1059.50" text-anchor="middle" fill="#111"><tspan font-size="14.50">10</tspan><tspan dy="-5.51" font-size="10.73">1</tspan></text>
<line x1="650.00" y1="1038.3" x2="650.00" y2="1042.8" stroke="#333" stroke-width="1.1"/>
<text x="651.00" y="1059.50" text-anchor="middle" fill="#111"><tspan font-size="14.50">10</tspan><tspan dy="-5.51" font-size="10.73">2</tspan></text>
<line x1="701.00" y1="1038.3" x2="701.00" y2="1042.8" stroke="#333" stroke-width="1.1"/>
<text x="702.00" y="1059.50" text-anchor="middle" fill="#111"><tspan font-size="14.50">10</tspan><tspan dy="-5.51" font-size="10.73">3</tspan></text>
<line x1="752.00" y1="1038.3" x2="752.00" y2="1042.8" stroke="#333" stroke-width="1.1"/>
<text x="753.00" y="1059.50" text-anchor="middle" fill="#111"><tspan font-size="14.50">10</tspan><tspan dy="-5.51" font-size="10.73">4</tspan></text>
<line x1="441.5" y1="1038.30" x2="446" y2="1038.30" stroke="#333" stroke-width="1.1"/>
<text x="436.30" y="1042.40" text-anchor="end" fill="#111"><tspan font-size="14.50">10</tspan><tspan dy="-5.51" font-size="10.73">−1</tspan></text>
<line x1="441.5" y1="989.14" x2="446" y2="989.14" stroke="#333" stroke-width="1.1"/>
<text x="436.30" y="994.14" text-anchor="end" fill="#111"><tspan font-size="14.50">1</tspan></text>
<line x1="441.5" y1="939.98" x2="446" y2="939.98" stroke="#333" stroke-width="1.1"/>
<text x="436.30" y="944.98" text-anchor="end" fill="#111"><tspan font-size="14.50">10</tspan></text>
<line x1="441.5" y1="890.82" x2="446" y2="890.82" stroke="#333" stroke-width="1.1"/>
<text x="436.30" y="895.82" text-anchor="end" fill="#111"><tspan font-size="14.50">10</tspan><tspan dy="-5.51" font-size="10.73">2</tspan></text>
<line x1="441.5" y1="841.66" x2="446" y2="841.66" stroke="#333" stroke-width="1.1"/>
<text x="436.30" y="846.66" text-anchor="end" fill="#111"><tspan font-size="14.50">10</tspan><tspan dy="-5.51" font-size="10.73">3</tspan></text>
<line x1="441.5" y1="792.50" x2="446" y2="792.50" stroke="#333" stroke-width="1.1"/>
<text x="436.30" y="799.30" text-anchor="end" fill="#111"><tspan font-size="14.50">10</tspan><tspan dy="-5.51" font-size="10.73">4</tspan></text>
<text x="439.00" y="784.70" fill="#111"><tspan font-style="italic" font-size="14.5">T</tspan><tspan dy="4.35" font-size="10.73">min</tspan><tspan dy="-4.35" font-size="14.5"> = 324 K</tspan></text>
<text x="518.50" y="784.70" text-anchor="start" fill="#111"><tspan font-size="14.50">350 K</tspan></text>
<text x="659.20" y="784.90" fill="#111"><tspan font-style="italic" font-size="14.5">T</tspan><tspan dy="4.35" font-size="10.73">max</tspan><tspan dy="-4.35" font-size="14.5"> = 500</tspan></text>
<text x="448.30" y="953.30" text-anchor="start" fill="#111"><tspan font-size="12.60">(</tspan><tspan font-size="12.60">3.01×10</tspan><tspan dy="-4.79" font-size="8.82">−2</tspan><tspan dy="4.79" font-size="12.60">, </tspan><tspan font-size="12.60">2.21×10</tspan><tspan dy="-4.79" font-size="8.82">0</tspan><tspan dy="4.79" font-size="12.60">)</tspan></text>
<text x="533.90" y="992.20" text-anchor="start" fill="#111"><tspan font-size="12.60">(</tspan><tspan font-size="12.60">2.83×10</tspan><tspan dy="-4.79" font-size="8.82">−1</tspan><tspan dy="4.79" font-size="12.60">, 1.31)</tspan></text>
<text x="639.20" y="840.00" text-anchor="start" fill="#111"><tspan font-size="12.60">(</tspan><tspan font-size="12.60">6.47×10</tspan><tspan dy="-4.79" font-size="8.82">2</tspan><tspan dy="4.79" font-size="12.60">, </tspan><tspan font-size="12.60">8.66×10</tspan><tspan dy="-4.79" font-size="8.82">2</tspan><tspan dy="4.79" font-size="12.60">)</tspan></text>
<text x="700.50" y="1027.40" text-anchor="start" fill="#111"><tspan font-size="17.00" font-style="italic">ε</tspan><tspan font-size="17.00"> = 1</tspan></text>
<text x="600.90" y="1083.00" text-anchor="middle" fill="#111"><tspan font-style="italic" font-size="14.5">k</tspan><tspan dy="4.06" font-size="11.02">f</tspan><tspan dx="-3.67" dy="-10.15" font-size="11.02">S-Wig</tspan><tspan dy="6.09" font-size="14.5"> (s</tspan><tspan dy="-5.51" font-size="11.02">−1</tspan><tspan dy="5.51" font-size="14.5">)</tspan></text>
</svg></body></html>
